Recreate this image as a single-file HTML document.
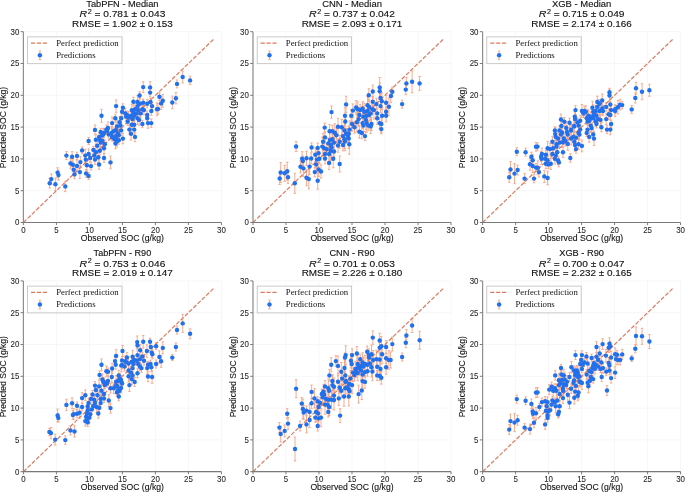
<!DOCTYPE html><html><head><meta charset="utf-8"><style>html,body{margin:0;padding:0;background:#fff;}svg{display:block;will-change:transform}</style></head><body>
<svg width="685" height="493" viewBox="0 0 685 493">
<rect width="685" height="493" fill="#fff"/>
<g stroke="#f7f7f7" stroke-width="1"><line x1="23.40" y1="222.50" x2="23.40" y2="31.70"/><line x1="23.40" y1="222.50" x2="221.40" y2="222.50"/><line x1="56.40" y1="222.50" x2="56.40" y2="31.70"/><line x1="23.40" y1="190.70" x2="221.40" y2="190.70"/><line x1="89.40" y1="222.50" x2="89.40" y2="31.70"/><line x1="23.40" y1="158.90" x2="221.40" y2="158.90"/><line x1="122.40" y1="222.50" x2="122.40" y2="31.70"/><line x1="23.40" y1="127.10" x2="221.40" y2="127.10"/><line x1="155.40" y1="222.50" x2="155.40" y2="31.70"/><line x1="23.40" y1="95.30" x2="221.40" y2="95.30"/><line x1="188.40" y1="222.50" x2="188.40" y2="31.70"/><line x1="23.40" y1="63.50" x2="221.40" y2="63.50"/><line x1="221.40" y1="222.50" x2="221.40" y2="31.70"/><line x1="23.40" y1="31.70" x2="221.40" y2="31.70"/></g>
<path d="M49.70 178.50V188.10M48.50 178.50h2.4M48.50 188.10h2.4M51.30 173.96V184.24M50.10 173.96h2.4M50.10 184.24h2.4M55.40 178.03V190.57M54.20 178.03h2.4M54.20 190.57h2.4M57.60 167.76V177.44M56.40 167.76h2.4M56.40 177.44h2.4M58.50 170.13V180.07M57.30 170.13h2.4M57.30 180.07h2.4M65.30 181.18V191.62M64.10 181.18h2.4M64.10 191.62h2.4M66.40 151.63V159.57M65.20 151.63h2.4M65.20 159.57h2.4M72.10 151.71V161.69M70.90 151.71h2.4M70.90 161.69h2.4M70.50 158.05V168.75M69.30 158.05h2.4M69.30 168.75h2.4M72.90 158.84V170.56M71.70 158.84h2.4M71.70 170.56h2.4M73.70 166.01V173.39M72.50 166.01h2.4M72.50 173.39h2.4M74.50 170.06V178.74M73.30 170.06h2.4M73.30 178.74h2.4M77.00 152.22V159.58M75.80 152.22h2.4M75.80 159.58h2.4M77.00 160.09V171.91M75.80 160.09h2.4M75.80 171.91h2.4M80.40 156.55V167.65M79.20 156.55h2.4M79.20 167.65h2.4M82.10 146.87V153.93M80.90 146.87h2.4M80.90 153.93h2.4M79.90 165.66V178.54M78.70 165.66h2.4M78.70 178.54h2.4M85.30 149.21V161.99M84.10 149.21h2.4M84.10 161.99h2.4M85.80 154.17V165.03M84.60 154.17h2.4M84.60 165.03h2.4M86.90 159.99V170.61M85.70 159.99h2.4M85.70 170.61h2.4M86.10 169.51V177.29M84.90 169.51h2.4M84.90 177.29h2.4M88.60 172.45V179.35M87.40 172.45h2.4M87.40 179.35h2.4M88.60 148.96V159.04M87.40 148.96h2.4M87.40 159.04h2.4M88.60 137.42V144.58M87.40 137.42h2.4M87.40 144.58h2.4M91.00 162.11V170.09M89.80 162.11h2.4M89.80 170.09h2.4M90.20 153.85V162.15M89.00 153.85h2.4M89.00 162.15h2.4M93.40 146.41V153.39M92.20 146.41h2.4M92.20 153.39h2.4M94.20 150.76V160.44M93.00 150.76h2.4M93.00 160.44h2.4M95.00 154.83V164.37M93.80 154.83h2.4M93.80 164.37h2.4M95.90 146.29V158.31M94.70 146.29h2.4M94.70 158.31h2.4M97.20 140.79V150.81M96.00 140.79h2.4M96.00 150.81h2.4M95.90 134.32V145.08M94.70 134.32h2.4M94.70 145.08h2.4M95.00 124.95V134.85M93.80 124.95h2.4M93.80 134.85h2.4M98.30 151.75V162.65M97.10 151.75h2.4M97.10 162.65h2.4M99.10 159.68V169.32M97.90 159.68h2.4M97.90 169.32h2.4M99.90 146.44V154.96M98.70 146.44h2.4M98.70 154.96h2.4M101.50 109.31V122.29M100.30 109.31h2.4M100.30 122.29h2.4M100.70 136.11V149.09M99.50 136.11h2.4M99.50 149.09h2.4M102.40 135.00V147.00M101.20 135.00h2.4M101.20 147.00h2.4M104.00 142.71V153.89M102.80 142.71h2.4M102.80 153.89h2.4M104.00 153.62V162.38M102.80 153.62h2.4M102.80 162.38h2.4M104.80 140.09V148.31M103.60 140.09h2.4M103.60 148.31h2.4M99.10 132.60V141.20M97.90 132.60h2.4M97.90 141.20h2.4M100.70 128.38V135.62M99.50 128.38h2.4M99.50 135.62h2.4M103.20 128.72V140.28M102.00 128.72h2.4M102.00 140.28h2.4M106.40 124.96V134.24M105.20 124.96h2.4M105.20 134.24h2.4M108.00 121.98V134.02M106.80 121.98h2.4M106.80 134.02h2.4M108.80 129.90V139.10M107.60 129.90h2.4M107.60 139.10h2.4M110.50 156.03V168.77M109.30 156.03h2.4M109.30 168.77h2.4M112.10 117.07V129.13M110.90 117.07h2.4M110.90 129.13h2.4M113.70 127.80V134.60M112.50 127.80h2.4M112.50 134.60h2.4M115.30 114.15V122.25M114.10 114.15h2.4M114.10 122.25h2.4M116.10 99.88V112.32M114.90 99.88h2.4M114.90 112.32h2.4M116.10 131.24V140.96M114.90 131.24h2.4M114.90 140.96h2.4M117.00 119.96V132.84M115.80 119.96h2.4M115.80 132.84h2.4M116.10 134.67V143.93M114.90 134.67h2.4M114.90 143.93h2.4M114.50 135.67V142.93M113.30 135.67h2.4M113.30 142.93h2.4M143.20 81.75V92.45M142.00 81.75h2.4M142.00 92.45h2.4M150.10 81.59V93.21M148.90 81.59h2.4M148.90 93.21h2.4M150.10 88.36V96.84M148.90 88.36h2.4M148.90 96.84h2.4M139.60 91.83V99.17M138.40 91.83h2.4M138.40 99.17h2.4M133.40 97.27V106.13M132.20 97.27h2.4M132.20 106.13h2.4M137.50 95.61V108.39M136.30 95.61h2.4M136.30 108.39h2.4M139.90 97.95V109.45M138.70 97.95h2.4M138.70 109.45h2.4M143.20 99.03V106.57M142.00 99.03h2.4M142.00 106.57h2.4M147.20 99.54V107.86M146.00 99.54h2.4M146.00 107.86h2.4M150.50 98.29V105.71M149.30 98.29h2.4M149.30 105.71h2.4M152.10 102.51V109.69M150.90 102.51h2.4M150.90 109.69h2.4M137.50 100.23V111.97M136.30 100.23h2.4M136.30 111.97h2.4M122.90 103.75V111.65M121.70 103.75h2.4M121.70 111.65h2.4M122.10 106.67V116.93M120.90 106.67h2.4M120.90 116.93h2.4M125.30 108.61V118.19M124.10 108.61h2.4M124.10 118.19h2.4M126.90 111.01V118.99M125.70 111.01h2.4M125.70 118.99h2.4M131.80 104.43V115.77M130.60 104.43h2.4M130.60 115.77h2.4M133.40 108.79V116.41M132.20 108.79h2.4M132.20 116.41h2.4M136.70 108.00V118.80M135.50 108.00h2.4M135.50 118.80h2.4M142.40 105.54V113.06M141.20 105.54h2.4M141.20 113.06h2.4M144.00 105.40V114.80M142.80 105.40h2.4M142.80 114.80h2.4M140.70 109.34V117.46M139.50 109.34h2.4M139.50 117.46h2.4M151.30 106.76V115.24M150.10 106.76h2.4M150.10 115.24h2.4M157.00 102.89V115.71M155.80 102.89h2.4M155.80 115.71h2.4M121.20 112.41V124.19M120.00 112.41h2.4M120.00 124.19h2.4M126.10 112.26V120.94M124.90 112.26h2.4M124.90 120.94h2.4M128.60 111.36V123.64M127.40 111.36h2.4M127.40 123.64h2.4M131.00 111.75V119.85M129.80 111.75h2.4M129.80 119.85h2.4M134.20 111.18V120.42M133.00 111.18h2.4M133.00 120.42h2.4M137.50 112.25V124.35M136.30 112.25h2.4M136.30 124.35h2.4M139.10 114.51V125.29M137.90 114.51h2.4M137.90 125.29h2.4M127.70 117.79V125.21M126.50 117.79h2.4M126.50 125.21h2.4M132.60 112.63V125.57M131.40 112.63h2.4M131.40 125.57h2.4M147.20 110.94V119.06M146.00 110.94h2.4M146.00 119.06h2.4M147.20 114.10V122.50M146.00 114.10h2.4M146.00 122.50h2.4M119.60 116.50V128.10M118.40 116.50h2.4M118.40 128.10h2.4M120.40 121.18V130.02M119.20 121.18h2.4M119.20 130.02h2.4M131.80 120.48V129.12M130.60 120.48h2.4M130.60 129.12h2.4M134.20 121.17V128.43M133.00 121.17h2.4M133.00 128.43h2.4M142.40 120.32V127.68M141.20 120.32h2.4M141.20 127.68h2.4M148.00 117.89V128.31M146.80 117.89h2.4M146.80 128.31h2.4M151.30 118.95V127.25M150.10 118.95h2.4M150.10 127.25h2.4M121.20 125.14V135.66M120.00 125.14h2.4M120.00 135.66h2.4M129.40 125.05V134.15M128.20 125.05h2.4M128.20 134.15h2.4M134.20 124.80V134.40M133.00 124.80h2.4M133.00 134.40h2.4M131.00 127.33V140.07M129.80 127.33h2.4M129.80 140.07h2.4M135.00 132.00V141.80M133.80 132.00h2.4M133.80 141.80h2.4M122.90 133.42V143.78M121.70 133.42h2.4M121.70 143.78h2.4M118.80 129.21V141.39M117.60 129.21h2.4M117.60 141.39h2.4M118.80 136.23V144.17M117.60 136.23h2.4M117.60 144.17h2.4M138.30 106.22V113.98M137.10 106.22h2.4M137.10 113.98h2.4M135.00 103.08V115.52M133.80 103.08h2.4M133.80 115.52h2.4M182.70 71.06V82.94M181.50 71.06h2.4M181.50 82.94h2.4M190.10 76.23V84.57M188.90 76.23h2.4M188.90 84.57h2.4M177.00 79.91V87.89M175.80 79.91h2.4M175.80 87.89h2.4M175.90 92.51V103.89M174.70 92.51h2.4M174.70 103.89h2.4M172.30 96.18V108.82M171.10 96.18h2.4M171.10 108.82h2.4M159.40 92.79V100.81M158.20 92.79h2.4M158.20 100.81h2.4M162.80 94.45V107.15M161.60 94.45h2.4M161.60 107.15h2.4M161.10 97.27V109.53M159.90 97.27h2.4M159.90 109.53h2.4M158.00 103.63V114.17M156.80 103.63h2.4M156.80 114.17h2.4M104.00 128.29V137.71M102.80 128.29h2.4M102.80 137.71h2.4M107.00 127.28V134.72M105.80 127.28h2.4M105.80 134.72h2.4M102.00 131.98V139.02M100.80 131.98h2.4M100.80 139.02h2.4M111.50 126.62V139.38M110.30 126.62h2.4M110.30 139.38h2.4M112.00 132.86V141.14M110.80 132.86h2.4M110.80 141.14h2.4M116.00 124.42V135.58M114.80 124.42h2.4M114.80 135.58h2.4M118.00 129.30V137.70M116.80 129.30h2.4M116.80 137.70h2.4M117.00 135.05V146.95M115.80 135.05h2.4M115.80 146.95h2.4M115.50 138.25V148.75M114.30 138.25h2.4M114.30 148.75h2.4M100.00 135.69V144.31M98.80 135.69h2.4M98.80 144.31h2.4" stroke="#f3a588" stroke-width="0.9" fill="none"/>
<line x1="23.40" y1="222.50" x2="214.14" y2="38.70" stroke="#de7a5c" stroke-width="1.2" stroke-dasharray="4.2 1.7"/>
<g fill="#2270ec"><circle cx="49.70" cy="183.30" r="2.2"/><circle cx="51.30" cy="179.10" r="2.2"/><circle cx="55.40" cy="184.30" r="2.2"/><circle cx="57.60" cy="172.60" r="2.2"/><circle cx="58.50" cy="175.10" r="2.2"/><circle cx="65.30" cy="186.40" r="2.2"/><circle cx="66.40" cy="155.60" r="2.2"/><circle cx="72.10" cy="156.70" r="2.2"/><circle cx="70.50" cy="163.40" r="2.2"/><circle cx="72.90" cy="164.70" r="2.2"/><circle cx="73.70" cy="169.70" r="2.2"/><circle cx="74.50" cy="174.40" r="2.2"/><circle cx="77.00" cy="155.90" r="2.2"/><circle cx="77.00" cy="166.00" r="2.2"/><circle cx="80.40" cy="162.10" r="2.2"/><circle cx="82.10" cy="150.40" r="2.2"/><circle cx="79.90" cy="172.10" r="2.2"/><circle cx="85.30" cy="155.60" r="2.2"/><circle cx="85.80" cy="159.60" r="2.2"/><circle cx="86.90" cy="165.30" r="2.2"/><circle cx="86.10" cy="173.40" r="2.2"/><circle cx="88.60" cy="175.90" r="2.2"/><circle cx="88.60" cy="154.00" r="2.2"/><circle cx="88.60" cy="141.00" r="2.2"/><circle cx="91.00" cy="166.10" r="2.2"/><circle cx="90.20" cy="158.00" r="2.2"/><circle cx="93.40" cy="149.90" r="2.2"/><circle cx="94.20" cy="155.60" r="2.2"/><circle cx="95.00" cy="159.60" r="2.2"/><circle cx="95.90" cy="152.30" r="2.2"/><circle cx="97.20" cy="145.80" r="2.2"/><circle cx="95.90" cy="139.70" r="2.2"/><circle cx="95.00" cy="129.90" r="2.2"/><circle cx="98.30" cy="157.20" r="2.2"/><circle cx="99.10" cy="164.50" r="2.2"/><circle cx="99.90" cy="150.70" r="2.2"/><circle cx="101.50" cy="115.80" r="2.2"/><circle cx="100.70" cy="142.60" r="2.2"/><circle cx="102.40" cy="141.00" r="2.2"/><circle cx="104.00" cy="148.30" r="2.2"/><circle cx="104.00" cy="158.00" r="2.2"/><circle cx="104.80" cy="144.20" r="2.2"/><circle cx="99.10" cy="136.90" r="2.2"/><circle cx="100.70" cy="132.00" r="2.2"/><circle cx="103.20" cy="134.50" r="2.2"/><circle cx="106.40" cy="129.60" r="2.2"/><circle cx="108.00" cy="128.00" r="2.2"/><circle cx="108.80" cy="134.50" r="2.2"/><circle cx="110.50" cy="162.40" r="2.2"/><circle cx="112.10" cy="123.10" r="2.2"/><circle cx="113.70" cy="131.20" r="2.2"/><circle cx="115.30" cy="118.20" r="2.2"/><circle cx="116.10" cy="106.10" r="2.2"/><circle cx="116.10" cy="136.10" r="2.2"/><circle cx="117.00" cy="126.40" r="2.2"/><circle cx="116.10" cy="139.30" r="2.2"/><circle cx="114.50" cy="139.30" r="2.2"/><circle cx="143.20" cy="87.10" r="2.2"/><circle cx="150.10" cy="87.40" r="2.2"/><circle cx="150.10" cy="92.60" r="2.2"/><circle cx="139.60" cy="95.50" r="2.2"/><circle cx="133.40" cy="101.70" r="2.2"/><circle cx="137.50" cy="102.00" r="2.2"/><circle cx="139.90" cy="103.70" r="2.2"/><circle cx="143.20" cy="102.80" r="2.2"/><circle cx="147.20" cy="103.70" r="2.2"/><circle cx="150.50" cy="102.00" r="2.2"/><circle cx="152.10" cy="106.10" r="2.2"/><circle cx="137.50" cy="106.10" r="2.2"/><circle cx="122.90" cy="107.70" r="2.2"/><circle cx="122.10" cy="111.80" r="2.2"/><circle cx="125.30" cy="113.40" r="2.2"/><circle cx="126.90" cy="115.00" r="2.2"/><circle cx="131.80" cy="110.10" r="2.2"/><circle cx="133.40" cy="112.60" r="2.2"/><circle cx="136.70" cy="113.40" r="2.2"/><circle cx="142.40" cy="109.30" r="2.2"/><circle cx="144.00" cy="110.10" r="2.2"/><circle cx="140.70" cy="113.40" r="2.2"/><circle cx="151.30" cy="111.00" r="2.2"/><circle cx="157.00" cy="109.30" r="2.2"/><circle cx="121.20" cy="118.30" r="2.2"/><circle cx="126.10" cy="116.60" r="2.2"/><circle cx="128.60" cy="117.50" r="2.2"/><circle cx="131.00" cy="115.80" r="2.2"/><circle cx="134.20" cy="115.80" r="2.2"/><circle cx="137.50" cy="118.30" r="2.2"/><circle cx="139.10" cy="119.90" r="2.2"/><circle cx="127.70" cy="121.50" r="2.2"/><circle cx="132.60" cy="119.10" r="2.2"/><circle cx="147.20" cy="115.00" r="2.2"/><circle cx="147.20" cy="118.30" r="2.2"/><circle cx="119.60" cy="122.30" r="2.2"/><circle cx="120.40" cy="125.60" r="2.2"/><circle cx="131.80" cy="124.80" r="2.2"/><circle cx="134.20" cy="124.80" r="2.2"/><circle cx="142.40" cy="124.00" r="2.2"/><circle cx="148.00" cy="123.10" r="2.2"/><circle cx="151.30" cy="123.10" r="2.2"/><circle cx="121.20" cy="130.40" r="2.2"/><circle cx="129.40" cy="129.60" r="2.2"/><circle cx="134.20" cy="129.60" r="2.2"/><circle cx="131.00" cy="133.70" r="2.2"/><circle cx="135.00" cy="136.90" r="2.2"/><circle cx="122.90" cy="138.60" r="2.2"/><circle cx="118.80" cy="135.30" r="2.2"/><circle cx="118.80" cy="140.20" r="2.2"/><circle cx="138.30" cy="110.10" r="2.2"/><circle cx="135.00" cy="109.30" r="2.2"/><circle cx="182.70" cy="77.00" r="2.2"/><circle cx="190.10" cy="80.40" r="2.2"/><circle cx="177.00" cy="83.90" r="2.2"/><circle cx="175.90" cy="98.20" r="2.2"/><circle cx="172.30" cy="102.50" r="2.2"/><circle cx="159.40" cy="96.80" r="2.2"/><circle cx="162.80" cy="100.80" r="2.2"/><circle cx="161.10" cy="103.40" r="2.2"/><circle cx="158.00" cy="108.90" r="2.2"/><circle cx="104.00" cy="133.00" r="2.2"/><circle cx="107.00" cy="131.00" r="2.2"/><circle cx="102.00" cy="135.50" r="2.2"/><circle cx="111.50" cy="133.00" r="2.2"/><circle cx="112.00" cy="137.00" r="2.2"/><circle cx="116.00" cy="130.00" r="2.2"/><circle cx="118.00" cy="133.50" r="2.2"/><circle cx="117.00" cy="141.00" r="2.2"/><circle cx="115.50" cy="143.50" r="2.2"/><circle cx="100.00" cy="140.00" r="2.2"/></g>
<path d="M23.40 31.70V222.50" stroke="#8e8e8e" stroke-width="1.2" fill="none"/>
<path d="M22.80 222.50H221.40" stroke="#7a7a7a" stroke-width="1.2" fill="none"/>
<path d="M23.40 222.50v2.6M23.40 222.50h-2.8M56.40 222.50v2.6M23.40 190.70h-2.8M89.40 222.50v2.6M23.40 158.90h-2.8M122.40 222.50v2.6M23.40 127.10h-2.8M155.40 222.50v2.6M23.40 95.30h-2.8M188.40 222.50v2.6M23.40 63.50h-2.8M221.40 222.50v2.6M23.40 31.70h-2.8" stroke="#7a7a7a" stroke-width="1.0" fill="none"/>
<g font-family="Liberation Sans, sans-serif" font-size="8.3" fill="#262626" stroke="#262626" stroke-width="0.08"><text x="23.40" y="232.60" text-anchor="middle" textLength="4.39" lengthAdjust="spacingAndGlyphs">0</text><text x="19.30" y="225.40" text-anchor="end" textLength="4.39" lengthAdjust="spacingAndGlyphs">0</text><text x="56.40" y="232.60" text-anchor="middle" textLength="4.39" lengthAdjust="spacingAndGlyphs">5</text><text x="19.30" y="193.60" text-anchor="end" textLength="4.39" lengthAdjust="spacingAndGlyphs">5</text><text x="89.40" y="232.60" text-anchor="middle" textLength="8.79" lengthAdjust="spacingAndGlyphs">10</text><text x="19.30" y="161.80" text-anchor="end" textLength="8.79" lengthAdjust="spacingAndGlyphs">10</text><text x="122.40" y="232.60" text-anchor="middle" textLength="8.79" lengthAdjust="spacingAndGlyphs">15</text><text x="19.30" y="130.00" text-anchor="end" textLength="8.79" lengthAdjust="spacingAndGlyphs">15</text><text x="155.40" y="232.60" text-anchor="middle" textLength="8.79" lengthAdjust="spacingAndGlyphs">20</text><text x="19.30" y="98.20" text-anchor="end" textLength="8.79" lengthAdjust="spacingAndGlyphs">20</text><text x="188.40" y="232.60" text-anchor="middle" textLength="8.79" lengthAdjust="spacingAndGlyphs">25</text><text x="19.30" y="66.40" text-anchor="end" textLength="8.79" lengthAdjust="spacingAndGlyphs">25</text><text x="221.40" y="232.60" text-anchor="middle" textLength="8.79" lengthAdjust="spacingAndGlyphs">30</text><text x="19.30" y="34.60" text-anchor="end" textLength="8.79" lengthAdjust="spacingAndGlyphs">30</text></g>
<text x="122.40" y="241.20" text-anchor="middle" font-family="Liberation Sans, sans-serif" font-size="8.2" fill="#111" stroke="#111" stroke-width="0.1" textLength="83.21" lengthAdjust="spacingAndGlyphs">Observed SOC (g/kg)</text>
<text transform="translate(6.00,127.50) rotate(-90)" x="0" y="0" text-anchor="middle" font-family="Liberation Sans, sans-serif" font-size="8.2" fill="#111" stroke="#111" stroke-width="0.1" textLength="81.29" lengthAdjust="spacingAndGlyphs">Predicted SOC (g/kg)</text>
<g font-family="Liberation Sans, sans-serif" font-size="9.0" fill="#111" stroke="#111" stroke-width="0.12" text-anchor="middle">
<text x="122.40" y="7.00" textLength="72.21" lengthAdjust="spacingAndGlyphs">TabPFN - Median</text>
<text x="122.40" y="17.30" textLength="85.86" lengthAdjust="spacingAndGlyphs"><tspan font-style="italic" font-size="9.4">R</tspan><tspan font-size="6.30" dx="0.5" dy="-3.4">2</tspan><tspan dy="3.4"> = 0.781 ± 0.043</tspan></text>
<text x="122.40" y="27.20" textLength="100.60" lengthAdjust="spacingAndGlyphs">RMSE = 1.902 ± 0.153</text>
</g>
<rect x="27.60" y="36.90" width="94.4" height="26.8" fill="#fff" fill-opacity="0.8" stroke="#bdbdbd" stroke-width="0.8"/>
<line x1="31.00" y1="43.10" x2="47.80" y2="43.10" stroke="#de7a5c" stroke-width="1.3" stroke-dasharray="4.2 1.7"/>
<path d="M39.90 51.00V59.60M38.70 51.00h2.4M38.70 59.60h2.4" stroke="#f3a588" stroke-width="0.9"/>
<circle cx="39.90" cy="55.30" r="2.2" fill="#2270ec"/>
<g font-family="Liberation Serif, serif" font-size="8.75" fill="#111">
<text x="56.20" y="46.00">Perfect prediction</text>
<text x="56.20" y="58.20">Predictions</text>
</g>
<g stroke="#f7f7f7" stroke-width="1"><line x1="253.00" y1="222.50" x2="253.00" y2="31.70"/><line x1="253.00" y1="222.50" x2="451.00" y2="222.50"/><line x1="286.00" y1="222.50" x2="286.00" y2="31.70"/><line x1="253.00" y1="190.70" x2="451.00" y2="190.70"/><line x1="319.00" y1="222.50" x2="319.00" y2="31.70"/><line x1="253.00" y1="158.90" x2="451.00" y2="158.90"/><line x1="352.00" y1="222.50" x2="352.00" y2="31.70"/><line x1="253.00" y1="127.10" x2="451.00" y2="127.10"/><line x1="385.00" y1="222.50" x2="385.00" y2="31.70"/><line x1="253.00" y1="95.30" x2="451.00" y2="95.30"/><line x1="418.00" y1="222.50" x2="418.00" y2="31.70"/><line x1="253.00" y1="63.50" x2="451.00" y2="63.50"/><line x1="451.00" y1="222.50" x2="451.00" y2="31.70"/><line x1="253.00" y1="31.70" x2="451.00" y2="31.70"/></g>
<path d="M279.70 172.50V184.50M278.50 172.50h2.4M278.50 184.50h2.4M280.70 162.50V182.50M279.50 162.50h2.4M279.50 182.50h2.4M284.70 165.30V181.30M283.50 165.30h2.4M283.50 181.30h2.4M287.20 162.20V180.20M286.00 162.20h2.4M286.00 180.20h2.4M288.00 171.30V183.30M286.80 171.30h2.4M286.80 183.30h2.4M294.80 173.30V193.30M293.60 173.30h2.4M293.60 193.30h2.4M296.10 141.50V151.50M294.90 141.50h2.4M294.90 151.50h2.4M302.10 151.70V165.70M300.90 151.70h2.4M300.90 165.70h2.4M302.90 156.10V166.10M301.70 156.10h2.4M301.70 166.10h2.4M300.50 160.80V172.80M299.30 160.80h2.4M299.30 172.80h2.4M303.40 160.40V176.40M302.20 160.40h2.4M302.20 176.40h2.4M306.50 151.19V165.41M305.30 151.19h2.4M305.30 165.41h2.4M306.50 169.80V185.80M305.30 169.80h2.4M305.30 185.80h2.4M331.50 106.10V118.10M330.30 106.10h2.4M330.30 118.10h2.4M346.10 96.28V112.52M344.90 96.28h2.4M344.90 112.52h2.4M345.00 107.63V123.97M343.80 107.63h2.4M343.80 123.97h2.4M345.30 116.22V126.78M344.10 116.22h2.4M344.10 126.78h2.4M324.70 123.04V132.16M323.50 123.04h2.4M323.50 132.16h2.4M329.60 124.64V137.76M328.40 124.64h2.4M328.40 137.76h2.4M332.40 125.19V137.21M331.20 125.19h2.4M331.20 137.21h2.4M334.80 123.84V141.76M333.60 123.84h2.4M333.60 141.76h2.4M338.00 118.40V135.00M336.80 118.40h2.4M336.80 135.00h2.4M341.80 119.39V135.01M340.60 119.39h2.4M340.60 135.01h2.4M336.40 127.73V142.87M335.20 127.73h2.4M335.20 142.87h2.4M344.50 122.26V138.54M343.30 122.26h2.4M343.30 138.54h2.4M346.10 128.40V139.00M344.90 128.40h2.4M344.90 139.00h2.4M342.90 129.18V143.02M341.70 129.18h2.4M341.70 143.02h2.4M325.00 132.01V142.79M323.80 132.01h2.4M323.80 142.79h2.4M329.90 130.62V149.58M328.70 130.62h2.4M328.70 149.58h2.4M332.40 134.48V144.12M331.20 134.48h2.4M331.20 144.12h2.4M334.00 133.60V151.60M332.80 133.60h2.4M332.80 151.60h2.4M328.30 138.49V148.31M327.10 138.49h2.4M327.10 148.31h2.4M323.10 133.52V150.08M321.90 133.52h2.4M321.90 150.08h2.4M339.70 135.45V148.15M338.50 135.45h2.4M338.50 148.15h2.4M338.00 138.77V152.23M336.80 138.77h2.4M336.80 152.23h2.4M344.50 130.17V148.43M343.30 130.17h2.4M343.30 148.43h2.4M311.60 142.90V152.10M310.40 142.90h2.4M310.40 152.10h2.4M317.70 143.07V152.73M316.50 143.07h2.4M316.50 152.73h2.4M322.30 137.07V156.13M321.10 137.07h2.4M321.10 156.13h2.4M324.20 141.00V155.60M323.00 141.00h2.4M323.00 155.60h2.4M326.70 144.10V154.10M325.50 144.10h2.4M325.50 154.10h2.4M331.50 137.57V157.43M330.30 137.57h2.4M330.30 157.43h2.4M330.70 140.99V160.41M329.50 140.99h2.4M329.50 160.41h2.4M334.00 146.38V156.62M332.80 146.38h2.4M332.80 156.62h2.4M315.30 147.97V161.63M314.10 147.97h2.4M314.10 161.63h2.4M318.60 147.86V158.34M317.40 147.86h2.4M317.40 158.34h2.4M325.00 147.78V160.22M323.80 147.78h2.4M323.80 160.22h2.4M329.10 146.08V161.92M327.90 146.08h2.4M327.90 161.92h2.4M311.20 153.10V163.90M310.00 153.10h2.4M310.00 163.90h2.4M316.90 151.27V167.93M315.70 151.27h2.4M315.70 167.93h2.4M319.40 154.02V163.58M318.20 154.02h2.4M318.20 163.58h2.4M325.00 153.06V163.94M323.80 153.06h2.4M323.80 163.94h2.4M333.20 149.81V167.79M332.00 149.81h2.4M332.00 167.79h2.4M329.10 156.20V169.60M327.90 156.20h2.4M327.90 169.60h2.4M339.70 156.00V172.00M338.50 156.00h2.4M338.50 172.00h2.4M316.10 157.70V171.30M314.90 157.70h2.4M314.90 171.30h2.4M309.60 158.82V174.38M308.40 158.82h2.4M308.40 174.38h2.4M318.60 162.28V176.52M317.40 162.28h2.4M317.40 176.52h2.4M321.00 164.88V178.12M319.80 164.88h2.4M319.80 178.12h2.4M314.80 167.43V176.77M313.60 167.43h2.4M313.60 176.77h2.4M317.70 172.21V189.19M316.50 172.21h2.4M316.50 189.19h2.4M308.80 169.28V188.92M307.60 169.28h2.4M307.60 188.92h2.4M379.70 77.53V97.27M378.50 77.53h2.4M378.50 97.27h2.4M379.70 83.05V99.35M378.50 83.05h2.4M378.50 99.35h2.4M372.80 85.04V97.96M371.60 85.04h2.4M371.60 97.96h2.4M368.80 88.70V101.70M367.60 88.70h2.4M367.60 101.70h2.4M380.50 89.70V106.30M379.30 89.70h2.4M379.30 106.30h2.4M381.80 92.99V109.41M380.60 92.99h2.4M380.60 109.41h2.4M372.70 96.57V106.83M371.50 96.57h2.4M371.50 106.83h2.4M376.40 98.31V109.89M375.20 98.31h2.4M375.20 109.89h2.4M380.50 99.60V112.60M379.30 99.60h2.4M379.30 112.60h2.4M386.10 95.49V110.11M384.90 95.49h2.4M384.90 110.11h2.4M367.50 96.34V114.26M366.30 96.34h2.4M366.30 114.26h2.4M369.10 99.65V114.15M367.90 99.65h2.4M367.90 114.15h2.4M372.40 104.65V113.95M371.20 104.65h2.4M371.20 113.95h2.4M374.00 101.08V119.12M372.80 101.08h2.4M372.80 119.12h2.4M356.10 100.53V114.27M354.90 100.53h2.4M354.90 114.27h2.4M357.70 101.95V116.65M356.50 101.95h2.4M356.50 116.65h2.4M360.20 104.38V115.82M359.00 104.38h2.4M359.00 115.82h2.4M362.60 101.65V115.35M361.40 101.65h2.4M361.40 115.35h2.4M352.90 103.96V117.24M351.70 103.96h2.4M351.70 117.24h2.4M364.20 103.05V120.55M363.00 103.05h2.4M363.00 120.55h2.4M367.50 105.94V116.06M366.30 105.94h2.4M366.30 116.06h2.4M370.70 105.88V120.92M369.50 105.88h2.4M369.50 120.92h2.4M377.20 107.92V118.88M376.00 107.92h2.4M376.00 118.88h2.4M382.10 107.47V124.13M380.90 107.47h2.4M380.90 124.13h2.4M386.10 107.10V116.50M384.90 107.10h2.4M384.90 116.50h2.4M386.10 109.78V121.82M384.90 109.78h2.4M384.90 121.82h2.4M351.20 109.41V122.19M350.00 109.41h2.4M350.00 122.19h2.4M359.40 107.00V123.00M358.20 107.00h2.4M358.20 123.00h2.4M363.40 111.81V121.39M362.20 111.81h2.4M362.20 121.39h2.4M366.70 108.77V122.83M365.50 108.77h2.4M365.50 122.83h2.4M369.10 109.35V120.65M367.90 109.35h2.4M367.90 120.65h2.4M377.20 112.25V124.35M376.00 112.25h2.4M376.00 124.35h2.4M358.60 111.98V126.22M357.40 111.98h2.4M357.40 126.22h2.4M365.90 110.13V129.67M364.70 110.13h2.4M364.70 129.67h2.4M352.10 116.85V131.15M350.90 116.85h2.4M350.90 131.15h2.4M356.90 112.54V132.06M355.70 112.54h2.4M355.70 132.06h2.4M362.60 117.68V128.52M361.40 117.68h2.4M361.40 128.52h2.4M366.70 113.52V132.68M365.50 113.52h2.4M365.50 132.68h2.4M371.50 117.50V130.50M370.30 117.50h2.4M370.30 130.50h2.4M379.70 117.56V128.64M378.50 117.56h2.4M378.50 128.64h2.4M381.30 115.38V132.62M380.10 115.38h2.4M380.10 132.62h2.4M363.40 116.08V135.12M362.20 116.08h2.4M362.20 135.12h2.4M368.30 121.06V130.14M367.10 121.06h2.4M367.10 130.14h2.4M354.50 121.22V133.18M353.30 121.22h2.4M353.30 133.18h2.4M349.60 120.86V138.34M348.40 120.86h2.4M348.40 138.34h2.4M359.40 125.32V138.08M358.20 125.32h2.4M358.20 138.08h2.4M361.80 127.07V138.73M360.60 127.07h2.4M360.60 138.73h2.4M365.00 131.55V140.65M363.80 131.55h2.4M363.80 140.65h2.4M381.30 124.38V133.82M380.10 124.38h2.4M380.10 133.82h2.4M348.80 125.80V141.60M347.60 125.80h2.4M347.60 141.60h2.4M348.80 128.69V148.51M347.60 128.69h2.4M347.60 148.51h2.4M349.30 134.21V154.19M348.10 134.21h2.4M348.10 154.19h2.4M370.70 119.13V133.67M369.50 119.13h2.4M369.50 133.67h2.4M412.10 70.80V92.80M410.90 70.80h2.4M410.90 92.80h2.4M419.60 76.40V90.40M418.40 76.40h2.4M418.40 90.40h2.4M406.40 77.40V89.40M405.20 77.40h2.4M405.20 89.40h2.4M405.80 84.60V94.60M404.60 84.60h2.4M404.60 94.60h2.4M392.30 87.07V96.33M391.10 87.07h2.4M391.10 96.33h2.4M390.90 89.73V102.27M389.70 89.73h2.4M389.70 102.27h2.4M402.10 100.10V108.10M400.90 100.10h2.4M400.90 108.10h2.4M388.90 97.97V115.63M387.70 97.97h2.4M387.70 115.63h2.4M345.00 132.42V150.58M343.80 132.42h2.4M343.80 150.58h2.4M348.00 128.98V145.02M346.80 128.98h2.4M346.80 145.02h2.4M343.00 139.24V150.76M341.80 139.24h2.4M341.80 150.76h2.4M331.00 137.60V152.40M329.80 137.60h2.4M329.80 152.40h2.4" stroke="#f3a588" stroke-width="0.9" fill="none"/>
<line x1="253.00" y1="222.50" x2="443.74" y2="38.70" stroke="#de7a5c" stroke-width="1.2" stroke-dasharray="4.2 1.7"/>
<g fill="#2270ec"><circle cx="279.70" cy="178.50" r="2.2"/><circle cx="280.70" cy="172.50" r="2.2"/><circle cx="284.70" cy="173.30" r="2.2"/><circle cx="287.20" cy="171.20" r="2.2"/><circle cx="288.00" cy="177.30" r="2.2"/><circle cx="294.80" cy="183.30" r="2.2"/><circle cx="296.10" cy="146.50" r="2.2"/><circle cx="302.10" cy="158.70" r="2.2"/><circle cx="302.90" cy="161.10" r="2.2"/><circle cx="300.50" cy="166.80" r="2.2"/><circle cx="303.40" cy="168.40" r="2.2"/><circle cx="306.50" cy="158.30" r="2.2"/><circle cx="306.50" cy="177.80" r="2.2"/><circle cx="331.50" cy="112.10" r="2.2"/><circle cx="346.10" cy="104.40" r="2.2"/><circle cx="345.00" cy="115.80" r="2.2"/><circle cx="345.30" cy="121.50" r="2.2"/><circle cx="324.70" cy="127.60" r="2.2"/><circle cx="329.60" cy="131.20" r="2.2"/><circle cx="332.40" cy="131.20" r="2.2"/><circle cx="334.80" cy="132.80" r="2.2"/><circle cx="338.00" cy="126.70" r="2.2"/><circle cx="341.80" cy="127.20" r="2.2"/><circle cx="336.40" cy="135.30" r="2.2"/><circle cx="344.50" cy="130.40" r="2.2"/><circle cx="346.10" cy="133.70" r="2.2"/><circle cx="342.90" cy="136.10" r="2.2"/><circle cx="325.00" cy="137.40" r="2.2"/><circle cx="329.90" cy="140.10" r="2.2"/><circle cx="332.40" cy="139.30" r="2.2"/><circle cx="334.00" cy="142.60" r="2.2"/><circle cx="328.30" cy="143.40" r="2.2"/><circle cx="323.10" cy="141.80" r="2.2"/><circle cx="339.70" cy="141.80" r="2.2"/><circle cx="338.00" cy="145.50" r="2.2"/><circle cx="344.50" cy="139.30" r="2.2"/><circle cx="311.60" cy="147.50" r="2.2"/><circle cx="317.70" cy="147.90" r="2.2"/><circle cx="322.30" cy="146.60" r="2.2"/><circle cx="324.20" cy="148.30" r="2.2"/><circle cx="326.70" cy="149.10" r="2.2"/><circle cx="331.50" cy="147.50" r="2.2"/><circle cx="330.70" cy="150.70" r="2.2"/><circle cx="334.00" cy="151.50" r="2.2"/><circle cx="315.30" cy="154.80" r="2.2"/><circle cx="318.60" cy="153.10" r="2.2"/><circle cx="325.00" cy="154.00" r="2.2"/><circle cx="329.10" cy="154.00" r="2.2"/><circle cx="311.20" cy="158.50" r="2.2"/><circle cx="316.90" cy="159.60" r="2.2"/><circle cx="319.40" cy="158.80" r="2.2"/><circle cx="325.00" cy="158.50" r="2.2"/><circle cx="333.20" cy="158.80" r="2.2"/><circle cx="329.10" cy="162.90" r="2.2"/><circle cx="339.70" cy="164.00" r="2.2"/><circle cx="316.10" cy="164.50" r="2.2"/><circle cx="309.60" cy="166.60" r="2.2"/><circle cx="318.60" cy="169.40" r="2.2"/><circle cx="321.00" cy="171.50" r="2.2"/><circle cx="314.80" cy="172.10" r="2.2"/><circle cx="317.70" cy="180.70" r="2.2"/><circle cx="308.80" cy="179.10" r="2.2"/><circle cx="379.70" cy="87.40" r="2.2"/><circle cx="379.70" cy="91.20" r="2.2"/><circle cx="372.80" cy="91.50" r="2.2"/><circle cx="368.80" cy="95.20" r="2.2"/><circle cx="380.50" cy="98.00" r="2.2"/><circle cx="381.80" cy="101.20" r="2.2"/><circle cx="372.70" cy="101.70" r="2.2"/><circle cx="376.40" cy="104.10" r="2.2"/><circle cx="380.50" cy="106.10" r="2.2"/><circle cx="386.10" cy="102.80" r="2.2"/><circle cx="367.50" cy="105.30" r="2.2"/><circle cx="369.10" cy="106.90" r="2.2"/><circle cx="372.40" cy="109.30" r="2.2"/><circle cx="374.00" cy="110.10" r="2.2"/><circle cx="356.10" cy="107.40" r="2.2"/><circle cx="357.70" cy="109.30" r="2.2"/><circle cx="360.20" cy="110.10" r="2.2"/><circle cx="362.60" cy="108.50" r="2.2"/><circle cx="352.90" cy="110.60" r="2.2"/><circle cx="364.20" cy="111.80" r="2.2"/><circle cx="367.50" cy="111.00" r="2.2"/><circle cx="370.70" cy="113.40" r="2.2"/><circle cx="377.20" cy="113.40" r="2.2"/><circle cx="382.10" cy="115.80" r="2.2"/><circle cx="386.10" cy="111.80" r="2.2"/><circle cx="386.10" cy="115.80" r="2.2"/><circle cx="351.20" cy="115.80" r="2.2"/><circle cx="359.40" cy="115.00" r="2.2"/><circle cx="363.40" cy="116.60" r="2.2"/><circle cx="366.70" cy="115.80" r="2.2"/><circle cx="369.10" cy="115.00" r="2.2"/><circle cx="377.20" cy="118.30" r="2.2"/><circle cx="358.60" cy="119.10" r="2.2"/><circle cx="365.90" cy="119.90" r="2.2"/><circle cx="352.10" cy="124.00" r="2.2"/><circle cx="356.90" cy="122.30" r="2.2"/><circle cx="362.60" cy="123.10" r="2.2"/><circle cx="366.70" cy="123.10" r="2.2"/><circle cx="371.50" cy="124.00" r="2.2"/><circle cx="379.70" cy="123.10" r="2.2"/><circle cx="381.30" cy="124.00" r="2.2"/><circle cx="363.40" cy="125.60" r="2.2"/><circle cx="368.30" cy="125.60" r="2.2"/><circle cx="354.50" cy="127.20" r="2.2"/><circle cx="349.60" cy="129.60" r="2.2"/><circle cx="359.40" cy="131.70" r="2.2"/><circle cx="361.80" cy="132.90" r="2.2"/><circle cx="365.00" cy="136.10" r="2.2"/><circle cx="381.30" cy="129.10" r="2.2"/><circle cx="348.80" cy="133.70" r="2.2"/><circle cx="348.80" cy="138.60" r="2.2"/><circle cx="349.30" cy="144.20" r="2.2"/><circle cx="370.70" cy="126.40" r="2.2"/><circle cx="412.10" cy="81.80" r="2.2"/><circle cx="419.60" cy="83.40" r="2.2"/><circle cx="406.40" cy="83.40" r="2.2"/><circle cx="405.80" cy="89.60" r="2.2"/><circle cx="392.30" cy="91.70" r="2.2"/><circle cx="390.90" cy="96.00" r="2.2"/><circle cx="402.10" cy="104.10" r="2.2"/><circle cx="388.90" cy="106.80" r="2.2"/><circle cx="345.00" cy="141.50" r="2.2"/><circle cx="348.00" cy="137.00" r="2.2"/><circle cx="343.00" cy="145.00" r="2.2"/><circle cx="331.00" cy="145.00" r="2.2"/></g>
<path d="M253.00 31.70V222.50" stroke="#8e8e8e" stroke-width="1.2" fill="none"/>
<path d="M252.40 222.50H451.00" stroke="#7a7a7a" stroke-width="1.2" fill="none"/>
<path d="M253.00 222.50v2.6M253.00 222.50h-2.8M286.00 222.50v2.6M253.00 190.70h-2.8M319.00 222.50v2.6M253.00 158.90h-2.8M352.00 222.50v2.6M253.00 127.10h-2.8M385.00 222.50v2.6M253.00 95.30h-2.8M418.00 222.50v2.6M253.00 63.50h-2.8M451.00 222.50v2.6M253.00 31.70h-2.8" stroke="#7a7a7a" stroke-width="1.0" fill="none"/>
<g font-family="Liberation Sans, sans-serif" font-size="8.3" fill="#262626" stroke="#262626" stroke-width="0.08"><text x="253.00" y="232.60" text-anchor="middle" textLength="4.39" lengthAdjust="spacingAndGlyphs">0</text><text x="248.90" y="225.40" text-anchor="end" textLength="4.39" lengthAdjust="spacingAndGlyphs">0</text><text x="286.00" y="232.60" text-anchor="middle" textLength="4.39" lengthAdjust="spacingAndGlyphs">5</text><text x="248.90" y="193.60" text-anchor="end" textLength="4.39" lengthAdjust="spacingAndGlyphs">5</text><text x="319.00" y="232.60" text-anchor="middle" textLength="8.79" lengthAdjust="spacingAndGlyphs">10</text><text x="248.90" y="161.80" text-anchor="end" textLength="8.79" lengthAdjust="spacingAndGlyphs">10</text><text x="352.00" y="232.60" text-anchor="middle" textLength="8.79" lengthAdjust="spacingAndGlyphs">15</text><text x="248.90" y="130.00" text-anchor="end" textLength="8.79" lengthAdjust="spacingAndGlyphs">15</text><text x="385.00" y="232.60" text-anchor="middle" textLength="8.79" lengthAdjust="spacingAndGlyphs">20</text><text x="248.90" y="98.20" text-anchor="end" textLength="8.79" lengthAdjust="spacingAndGlyphs">20</text><text x="418.00" y="232.60" text-anchor="middle" textLength="8.79" lengthAdjust="spacingAndGlyphs">25</text><text x="248.90" y="66.40" text-anchor="end" textLength="8.79" lengthAdjust="spacingAndGlyphs">25</text><text x="451.00" y="232.60" text-anchor="middle" textLength="8.79" lengthAdjust="spacingAndGlyphs">30</text><text x="248.90" y="34.60" text-anchor="end" textLength="8.79" lengthAdjust="spacingAndGlyphs">30</text></g>
<text x="352.00" y="241.20" text-anchor="middle" font-family="Liberation Sans, sans-serif" font-size="8.2" fill="#111" stroke="#111" stroke-width="0.1" textLength="83.21" lengthAdjust="spacingAndGlyphs">Observed SOC (g/kg)</text>
<text transform="translate(235.60,127.50) rotate(-90)" x="0" y="0" text-anchor="middle" font-family="Liberation Sans, sans-serif" font-size="8.2" fill="#111" stroke="#111" stroke-width="0.1" textLength="81.29" lengthAdjust="spacingAndGlyphs">Predicted SOC (g/kg)</text>
<g font-family="Liberation Sans, sans-serif" font-size="9.0" fill="#111" stroke="#111" stroke-width="0.12" text-anchor="middle">
<text x="352.00" y="7.00" textLength="59.75" lengthAdjust="spacingAndGlyphs">CNN - Median</text>
<text x="352.00" y="17.30" textLength="85.86" lengthAdjust="spacingAndGlyphs"><tspan font-style="italic" font-size="9.4">R</tspan><tspan font-size="6.30" dx="0.5" dy="-3.4">2</tspan><tspan dy="3.4"> = 0.737 ± 0.042</tspan></text>
<text x="352.00" y="27.20" textLength="100.60" lengthAdjust="spacingAndGlyphs">RMSE = 2.093 ± 0.171</text>
</g>
<rect x="257.20" y="36.90" width="94.4" height="26.8" fill="#fff" fill-opacity="0.8" stroke="#bdbdbd" stroke-width="0.8"/>
<line x1="260.60" y1="43.10" x2="277.40" y2="43.10" stroke="#de7a5c" stroke-width="1.3" stroke-dasharray="4.2 1.7"/>
<path d="M269.50 51.00V59.60M268.30 51.00h2.4M268.30 59.60h2.4" stroke="#f3a588" stroke-width="0.9"/>
<circle cx="269.50" cy="55.30" r="2.2" fill="#2270ec"/>
<g font-family="Liberation Serif, serif" font-size="8.75" fill="#111">
<text x="285.80" y="46.00">Perfect prediction</text>
<text x="285.80" y="58.20">Predictions</text>
</g>
<g stroke="#f7f7f7" stroke-width="1"><line x1="482.60" y1="222.50" x2="482.60" y2="31.70"/><line x1="482.60" y1="222.50" x2="680.60" y2="222.50"/><line x1="515.60" y1="222.50" x2="515.60" y2="31.70"/><line x1="482.60" y1="190.70" x2="680.60" y2="190.70"/><line x1="548.60" y1="222.50" x2="548.60" y2="31.70"/><line x1="482.60" y1="158.90" x2="680.60" y2="158.90"/><line x1="581.60" y1="222.50" x2="581.60" y2="31.70"/><line x1="482.60" y1="127.10" x2="680.60" y2="127.10"/><line x1="614.60" y1="222.50" x2="614.60" y2="31.70"/><line x1="482.60" y1="95.30" x2="680.60" y2="95.30"/><line x1="647.60" y1="222.50" x2="647.60" y2="31.70"/><line x1="482.60" y1="63.50" x2="680.60" y2="63.50"/><line x1="680.60" y1="222.50" x2="680.60" y2="31.70"/><line x1="482.60" y1="31.70" x2="680.60" y2="31.70"/></g>
<path d="M509.20 172.30V182.30M508.00 172.30h2.4M508.00 182.30h2.4M510.50 161.50V177.50M509.30 161.50h2.4M509.30 177.50h2.4M514.50 163.60V183.60M513.30 163.60h2.4M513.30 183.60h2.4M517.60 165.00V175.00M516.40 165.00h2.4M516.40 175.00h2.4M516.80 147.70V155.70M515.60 147.70h2.4M515.60 155.70h2.4M525.60 148.20V156.20M524.40 148.20h2.4M524.40 156.20h2.4M524.60 173.60V183.60M523.40 173.60h2.4M523.40 183.60h2.4M531.40 152.22V161.18M530.20 152.22h2.4M530.20 161.18h2.4M532.70 154.37V166.23M531.50 154.37h2.4M531.50 166.23h2.4M530.00 158.37V170.23M528.80 158.37h2.4M528.80 170.23h2.4M532.70 159.51V172.49M531.50 159.51h2.4M531.50 172.49h2.4M534.00 174.37V182.83M532.80 174.37h2.4M532.80 182.83h2.4M536.00 142.42V151.18M534.80 142.42h2.4M534.80 151.18h2.4M536.00 163.50V171.70M534.80 163.50h2.4M534.80 171.70h2.4M575.50 105.73V114.47M574.30 105.73h2.4M574.30 114.47h2.4M574.80 110.50V122.70M573.60 110.50h2.4M573.60 122.70h2.4M575.10 114.96V123.04M573.90 114.96h2.4M573.90 123.04h2.4M561.00 114.09V124.91M559.80 114.09h2.4M559.80 124.91h2.4M564.30 117.47V126.13M563.10 117.47h2.4M563.10 126.13h2.4M569.50 118.20V127.40M568.30 118.20h2.4M568.30 127.40h2.4M561.40 120.93V131.07M560.20 120.93h2.4M560.20 131.07h2.4M566.20 121.55V134.45M565.00 121.55h2.4M565.00 134.45h2.4M574.30 120.73V132.07M573.10 120.73h2.4M573.10 132.07h2.4M554.90 126.75V134.05M553.70 126.75h2.4M553.70 134.05h2.4M559.40 125.86V134.94M558.20 125.86h2.4M558.20 134.94h2.4M562.20 128.40V136.60M561.00 128.40h2.4M561.00 136.60h2.4M567.00 125.44V138.56M565.80 125.44h2.4M565.80 138.56h2.4M555.20 127.75V140.45M554.00 127.75h2.4M554.00 140.45h2.4M571.10 123.26V135.94M569.90 123.26h2.4M569.90 135.94h2.4M555.70 130.49V143.31M554.50 130.49h2.4M554.50 143.31h2.4M561.00 128.37V140.63M559.80 128.37h2.4M559.80 140.63h2.4M567.80 127.67V141.33M566.60 127.67h2.4M566.60 141.33h2.4M558.10 132.20V144.80M556.90 132.20h2.4M556.90 144.80h2.4M563.80 134.03V142.97M562.60 134.03h2.4M562.60 142.97h2.4M571.10 132.01V144.99M569.90 132.01h2.4M569.90 144.99h2.4M573.50 131.64V142.16M572.30 131.64h2.4M572.30 142.16h2.4M576.00 131.53V143.87M574.80 131.53h2.4M574.80 143.87h2.4M552.40 136.28V147.32M551.20 136.28h2.4M551.20 147.32h2.4M559.70 137.54V147.66M558.50 137.54h2.4M558.50 147.66h2.4M562.60 137.46V147.14M561.40 137.46h2.4M561.40 147.14h2.4M565.40 135.94V146.06M564.20 135.94h2.4M564.20 146.06h2.4M574.30 137.13V146.47M573.10 137.13h2.4M573.10 146.47h2.4M556.50 140.20V148.20M555.30 140.20h2.4M555.30 148.20h2.4M567.80 137.51V150.29M566.60 137.51h2.4M566.60 150.29h2.4M575.10 138.69V151.31M573.90 138.69h2.4M573.90 151.31h2.4M547.60 141.35V155.25M546.40 141.35h2.4M546.40 155.25h2.4M550.00 143.15V155.05M548.80 143.15h2.4M548.80 155.05h2.4M553.20 142.82V153.78M552.00 142.82h2.4M552.00 153.78h2.4M556.50 140.46V152.74M555.30 140.46h2.4M555.30 152.74h2.4M576.00 145.04V153.16M574.80 145.04h2.4M574.80 153.16h2.4M541.90 148.10V159.90M540.70 148.10h2.4M540.70 159.90h2.4M541.10 151.29V161.51M539.90 151.29h2.4M539.90 161.51h2.4M545.90 150.60V159.00M544.70 150.60h2.4M544.70 159.00h2.4M552.40 149.71V158.29M551.20 149.71h2.4M551.20 158.29h2.4M555.70 150.22V160.98M554.50 150.22h2.4M554.50 160.98h2.4M557.30 147.84V156.76M556.10 147.84h2.4M556.10 156.76h2.4M563.00 147.14V157.46M561.80 147.14h2.4M561.80 157.46h2.4M541.50 153.14V164.46M540.30 153.14h2.4M540.30 164.46h2.4M545.10 153.85V163.75M543.90 153.85h2.4M543.90 163.75h2.4M547.60 156.36V164.44M546.40 156.36h2.4M546.40 164.44h2.4M554.90 153.53V164.07M553.70 153.53h2.4M553.70 164.07h2.4M558.10 156.00V164.80M556.90 156.00h2.4M556.90 164.80h2.4M558.90 158.00V166.80M557.70 158.00h2.4M557.70 166.80h2.4M570.30 153.74V162.26M569.10 153.74h2.4M569.10 162.26h2.4M545.90 158.85V168.55M544.70 158.85h2.4M544.70 168.55h2.4M548.40 160.65V168.35M547.20 160.65h2.4M547.20 168.35h2.4M550.80 157.89V169.51M549.60 157.89h2.4M549.60 169.51h2.4M537.80 160.86V174.54M536.60 160.86h2.4M536.60 174.54h2.4M539.00 167.18V177.02M537.80 167.18h2.4M537.80 177.02h2.4M544.30 170.36V182.44M543.10 170.36h2.4M543.10 182.44h2.4M547.60 171.23V184.77M546.40 171.23h2.4M546.40 184.77h2.4M537.50 142.85V150.35M536.30 142.85h2.4M536.30 150.35h2.4M609.50 88.22V96.38M608.30 88.22h2.4M608.30 96.38h2.4M609.50 89.16V101.84M608.30 89.16h2.4M608.30 101.84h2.4M602.20 93.95V106.85M601.00 93.95h2.4M601.00 106.85h2.4M597.30 96.23V107.77M596.10 96.23h2.4M596.10 107.77h2.4M599.70 99.56V107.84M598.50 99.56h2.4M598.50 107.84h2.4M610.30 99.49V109.51M609.10 99.49h2.4M609.10 109.51h2.4M592.40 101.15V114.25M591.20 101.15h2.4M591.20 114.25h2.4M597.30 100.29V113.51M596.10 100.29h2.4M596.10 113.51h2.4M602.20 102.17V114.83M601.00 102.17h2.4M601.00 114.83h2.4M606.20 102.61V111.19M605.00 102.61h2.4M605.00 111.19h2.4M581.90 104.50V117.50M580.70 104.50h2.4M580.70 117.50h2.4M584.30 106.13V115.87M583.10 106.13h2.4M583.10 115.87h2.4M585.90 105.76V117.84M584.70 105.76h2.4M584.70 117.84h2.4M583.50 109.33V117.47M582.30 109.33h2.4M582.30 117.47h2.4M593.20 104.90V118.70M592.00 104.90h2.4M592.00 118.70h2.4M595.70 105.35V116.65M594.50 105.35h2.4M594.50 116.65h2.4M599.70 104.94V117.06M598.50 104.94h2.4M598.50 117.06h2.4M603.00 106.68V115.32M601.80 106.68h2.4M601.80 115.32h2.4M611.10 104.40V115.80M609.90 104.40h2.4M609.90 115.80h2.4M615.10 105.43V116.57M613.90 105.43h2.4M613.90 116.57h2.4M608.70 108.59V119.81M607.50 108.59h2.4M607.50 119.81h2.4M610.30 110.18V119.82M609.10 110.18h2.4M609.10 119.82h2.4M588.40 109.73V121.87M587.20 109.73h2.4M587.20 121.87h2.4M590.80 111.84V121.36M589.60 111.84h2.4M589.60 121.36h2.4M594.00 110.40V119.60M592.80 110.40h2.4M592.80 119.60h2.4M596.50 111.64V119.96M595.30 111.64h2.4M595.30 119.96h2.4M586.70 112.37V124.23M585.50 112.37h2.4M585.50 124.23h2.4M590.00 115.12V123.08M588.80 115.12h2.4M588.80 123.08h2.4M593.20 113.93V122.67M592.00 113.93h2.4M592.00 122.67h2.4M598.10 115.26V122.94M596.90 115.26h2.4M596.90 122.94h2.4M600.50 114.11V125.69M599.30 114.11h2.4M599.30 125.69h2.4M606.20 113.61V124.59M605.00 113.61h2.4M605.00 124.59h2.4M580.20 115.25V126.15M579.00 115.25h2.4M579.00 126.15h2.4M587.60 117.77V125.23M586.40 117.77h2.4M586.40 125.23h2.4M589.20 115.61V125.79M588.00 115.61h2.4M588.00 125.79h2.4M595.70 116.73V126.27M594.50 116.73h2.4M594.50 126.27h2.4M596.50 120.08V127.92M595.30 120.08h2.4M595.30 127.92h2.4M611.10 120.39V127.61M609.90 120.39h2.4M609.90 127.61h2.4M590.80 118.61V132.59M589.60 118.61h2.4M589.60 132.59h2.4M578.60 121.59V129.61M577.40 121.59h2.4M577.40 129.61h2.4M601.40 122.57V131.83M600.20 122.57h2.4M600.20 131.83h2.4M591.60 123.49V132.51M590.40 123.49h2.4M590.40 132.51h2.4M587.60 123.97V135.23M586.40 123.97h2.4M586.40 135.23h2.4M607.00 125.74V133.46M605.80 125.74h2.4M605.80 133.46h2.4M610.30 124.40V134.80M609.10 124.40h2.4M609.10 134.80h2.4M580.20 124.75V134.45M579.00 124.75h2.4M579.00 134.45h2.4M578.60 126.46V139.34M577.40 126.46h2.4M577.40 139.34h2.4M586.70 129.28V136.52M585.50 129.28h2.4M585.50 136.52h2.4M593.20 129.76V139.24M592.00 129.76h2.4M592.00 139.24h2.4M589.20 131.61V142.19M588.00 131.61h2.4M588.00 142.19h2.4M594.00 131.70V145.50M592.80 131.70h2.4M592.80 145.50h2.4M579.40 129.14V139.86M578.20 129.14h2.4M578.20 139.86h2.4M578.60 138.99V149.41M577.40 138.99h2.4M577.40 149.41h2.4M581.90 140.02V151.78M580.70 140.02h2.4M580.70 151.78h2.4M615.10 104.69V113.91M613.90 104.69h2.4M613.90 113.91h2.4M636.00 82.20V94.20M634.80 82.20h2.4M634.80 94.20h2.4M642.00 83.70V99.70M640.80 83.70h2.4M640.80 99.70h2.4M649.40 84.30V96.30M648.20 84.30h2.4M648.20 96.30h2.4M635.30 93.00V103.00M634.10 93.00h2.4M634.10 103.00h2.4M631.70 105.40V113.40M630.50 105.40h2.4M630.50 113.40h2.4M622.20 101.39V108.81M621.00 101.39h2.4M621.00 108.81h2.4M620.10 99.30V109.90M618.90 99.30h2.4M618.90 109.90h2.4M617.90 100.50V113.90M616.70 100.50h2.4M616.70 113.90h2.4M574.00 119.89V132.11M572.80 119.89h2.4M572.80 132.11h2.4M577.50 118.02V126.98M576.30 118.02h2.4M576.30 126.98h2.4M571.00 124.57V136.43M569.80 124.57h2.4M569.80 136.43h2.4" stroke="#f3a588" stroke-width="0.9" fill="none"/>
<line x1="482.60" y1="222.50" x2="673.34" y2="38.70" stroke="#de7a5c" stroke-width="1.2" stroke-dasharray="4.2 1.7"/>
<g fill="#2270ec"><circle cx="509.20" cy="177.30" r="2.2"/><circle cx="510.50" cy="169.50" r="2.2"/><circle cx="514.50" cy="173.60" r="2.2"/><circle cx="517.60" cy="170.00" r="2.2"/><circle cx="516.80" cy="151.70" r="2.2"/><circle cx="525.60" cy="152.20" r="2.2"/><circle cx="524.60" cy="178.60" r="2.2"/><circle cx="531.40" cy="156.70" r="2.2"/><circle cx="532.70" cy="160.30" r="2.2"/><circle cx="530.00" cy="164.30" r="2.2"/><circle cx="532.70" cy="166.00" r="2.2"/><circle cx="534.00" cy="178.60" r="2.2"/><circle cx="536.00" cy="146.80" r="2.2"/><circle cx="536.00" cy="167.60" r="2.2"/><circle cx="575.50" cy="110.10" r="2.2"/><circle cx="574.80" cy="116.60" r="2.2"/><circle cx="575.10" cy="119.00" r="2.2"/><circle cx="561.00" cy="119.50" r="2.2"/><circle cx="564.30" cy="121.80" r="2.2"/><circle cx="569.50" cy="122.80" r="2.2"/><circle cx="561.40" cy="126.00" r="2.2"/><circle cx="566.20" cy="128.00" r="2.2"/><circle cx="574.30" cy="126.40" r="2.2"/><circle cx="554.90" cy="130.40" r="2.2"/><circle cx="559.40" cy="130.40" r="2.2"/><circle cx="562.20" cy="132.50" r="2.2"/><circle cx="567.00" cy="132.00" r="2.2"/><circle cx="555.20" cy="134.10" r="2.2"/><circle cx="571.10" cy="129.60" r="2.2"/><circle cx="555.70" cy="136.90" r="2.2"/><circle cx="561.00" cy="134.50" r="2.2"/><circle cx="567.80" cy="134.50" r="2.2"/><circle cx="558.10" cy="138.50" r="2.2"/><circle cx="563.80" cy="138.50" r="2.2"/><circle cx="571.10" cy="138.50" r="2.2"/><circle cx="573.50" cy="136.90" r="2.2"/><circle cx="576.00" cy="137.70" r="2.2"/><circle cx="552.40" cy="141.80" r="2.2"/><circle cx="559.70" cy="142.60" r="2.2"/><circle cx="562.60" cy="142.30" r="2.2"/><circle cx="565.40" cy="141.00" r="2.2"/><circle cx="574.30" cy="141.80" r="2.2"/><circle cx="556.50" cy="144.20" r="2.2"/><circle cx="567.80" cy="143.90" r="2.2"/><circle cx="575.10" cy="145.00" r="2.2"/><circle cx="547.60" cy="148.30" r="2.2"/><circle cx="550.00" cy="149.10" r="2.2"/><circle cx="553.20" cy="148.30" r="2.2"/><circle cx="556.50" cy="146.60" r="2.2"/><circle cx="576.00" cy="149.10" r="2.2"/><circle cx="541.90" cy="154.00" r="2.2"/><circle cx="541.10" cy="156.40" r="2.2"/><circle cx="545.90" cy="154.80" r="2.2"/><circle cx="552.40" cy="154.00" r="2.2"/><circle cx="555.70" cy="155.60" r="2.2"/><circle cx="557.30" cy="152.30" r="2.2"/><circle cx="563.00" cy="152.30" r="2.2"/><circle cx="541.50" cy="158.80" r="2.2"/><circle cx="545.10" cy="158.80" r="2.2"/><circle cx="547.60" cy="160.40" r="2.2"/><circle cx="554.90" cy="158.80" r="2.2"/><circle cx="558.10" cy="160.40" r="2.2"/><circle cx="558.90" cy="162.40" r="2.2"/><circle cx="570.30" cy="158.00" r="2.2"/><circle cx="545.90" cy="163.70" r="2.2"/><circle cx="548.40" cy="164.50" r="2.2"/><circle cx="550.80" cy="163.70" r="2.2"/><circle cx="537.80" cy="167.70" r="2.2"/><circle cx="539.00" cy="172.10" r="2.2"/><circle cx="544.30" cy="176.40" r="2.2"/><circle cx="547.60" cy="178.00" r="2.2"/><circle cx="537.50" cy="146.60" r="2.2"/><circle cx="609.50" cy="92.30" r="2.2"/><circle cx="609.50" cy="95.50" r="2.2"/><circle cx="602.20" cy="100.40" r="2.2"/><circle cx="597.30" cy="102.00" r="2.2"/><circle cx="599.70" cy="103.70" r="2.2"/><circle cx="610.30" cy="104.50" r="2.2"/><circle cx="592.40" cy="107.70" r="2.2"/><circle cx="597.30" cy="106.90" r="2.2"/><circle cx="602.20" cy="108.50" r="2.2"/><circle cx="606.20" cy="106.90" r="2.2"/><circle cx="581.90" cy="111.00" r="2.2"/><circle cx="584.30" cy="111.00" r="2.2"/><circle cx="585.90" cy="111.80" r="2.2"/><circle cx="583.50" cy="113.40" r="2.2"/><circle cx="593.20" cy="111.80" r="2.2"/><circle cx="595.70" cy="111.00" r="2.2"/><circle cx="599.70" cy="111.00" r="2.2"/><circle cx="603.00" cy="111.00" r="2.2"/><circle cx="611.10" cy="110.10" r="2.2"/><circle cx="615.10" cy="111.00" r="2.2"/><circle cx="608.70" cy="114.20" r="2.2"/><circle cx="610.30" cy="115.00" r="2.2"/><circle cx="588.40" cy="115.80" r="2.2"/><circle cx="590.80" cy="116.60" r="2.2"/><circle cx="594.00" cy="115.00" r="2.2"/><circle cx="596.50" cy="115.80" r="2.2"/><circle cx="586.70" cy="118.30" r="2.2"/><circle cx="590.00" cy="119.10" r="2.2"/><circle cx="593.20" cy="118.30" r="2.2"/><circle cx="598.10" cy="119.10" r="2.2"/><circle cx="600.50" cy="119.90" r="2.2"/><circle cx="606.20" cy="119.10" r="2.2"/><circle cx="580.20" cy="120.70" r="2.2"/><circle cx="587.60" cy="121.50" r="2.2"/><circle cx="589.20" cy="120.70" r="2.2"/><circle cx="595.70" cy="121.50" r="2.2"/><circle cx="596.50" cy="124.00" r="2.2"/><circle cx="611.10" cy="124.00" r="2.2"/><circle cx="590.80" cy="125.60" r="2.2"/><circle cx="578.60" cy="125.60" r="2.2"/><circle cx="601.40" cy="127.20" r="2.2"/><circle cx="591.60" cy="128.00" r="2.2"/><circle cx="587.60" cy="129.60" r="2.2"/><circle cx="607.00" cy="129.60" r="2.2"/><circle cx="610.30" cy="129.60" r="2.2"/><circle cx="580.20" cy="129.60" r="2.2"/><circle cx="578.60" cy="132.90" r="2.2"/><circle cx="586.70" cy="132.90" r="2.2"/><circle cx="593.20" cy="134.50" r="2.2"/><circle cx="589.20" cy="136.90" r="2.2"/><circle cx="594.00" cy="138.60" r="2.2"/><circle cx="579.40" cy="134.50" r="2.2"/><circle cx="578.60" cy="144.20" r="2.2"/><circle cx="581.90" cy="145.90" r="2.2"/><circle cx="615.10" cy="109.30" r="2.2"/><circle cx="636.00" cy="88.20" r="2.2"/><circle cx="642.00" cy="91.70" r="2.2"/><circle cx="649.40" cy="90.30" r="2.2"/><circle cx="635.30" cy="98.00" r="2.2"/><circle cx="631.70" cy="109.40" r="2.2"/><circle cx="622.20" cy="105.10" r="2.2"/><circle cx="620.10" cy="104.60" r="2.2"/><circle cx="617.90" cy="107.20" r="2.2"/><circle cx="574.00" cy="126.00" r="2.2"/><circle cx="577.50" cy="122.50" r="2.2"/><circle cx="571.00" cy="130.50" r="2.2"/></g>
<path d="M482.60 31.70V222.50" stroke="#8e8e8e" stroke-width="1.2" fill="none"/>
<path d="M482.00 222.50H680.60" stroke="#7a7a7a" stroke-width="1.2" fill="none"/>
<path d="M482.60 222.50v2.6M482.60 222.50h-2.8M515.60 222.50v2.6M482.60 190.70h-2.8M548.60 222.50v2.6M482.60 158.90h-2.8M581.60 222.50v2.6M482.60 127.10h-2.8M614.60 222.50v2.6M482.60 95.30h-2.8M647.60 222.50v2.6M482.60 63.50h-2.8M680.60 222.50v2.6M482.60 31.70h-2.8" stroke="#7a7a7a" stroke-width="1.0" fill="none"/>
<g font-family="Liberation Sans, sans-serif" font-size="8.3" fill="#262626" stroke="#262626" stroke-width="0.08"><text x="482.60" y="232.60" text-anchor="middle" textLength="4.39" lengthAdjust="spacingAndGlyphs">0</text><text x="478.50" y="225.40" text-anchor="end" textLength="4.39" lengthAdjust="spacingAndGlyphs">0</text><text x="515.60" y="232.60" text-anchor="middle" textLength="4.39" lengthAdjust="spacingAndGlyphs">5</text><text x="478.50" y="193.60" text-anchor="end" textLength="4.39" lengthAdjust="spacingAndGlyphs">5</text><text x="548.60" y="232.60" text-anchor="middle" textLength="8.79" lengthAdjust="spacingAndGlyphs">10</text><text x="478.50" y="161.80" text-anchor="end" textLength="8.79" lengthAdjust="spacingAndGlyphs">10</text><text x="581.60" y="232.60" text-anchor="middle" textLength="8.79" lengthAdjust="spacingAndGlyphs">15</text><text x="478.50" y="130.00" text-anchor="end" textLength="8.79" lengthAdjust="spacingAndGlyphs">15</text><text x="614.60" y="232.60" text-anchor="middle" textLength="8.79" lengthAdjust="spacingAndGlyphs">20</text><text x="478.50" y="98.20" text-anchor="end" textLength="8.79" lengthAdjust="spacingAndGlyphs">20</text><text x="647.60" y="232.60" text-anchor="middle" textLength="8.79" lengthAdjust="spacingAndGlyphs">25</text><text x="478.50" y="66.40" text-anchor="end" textLength="8.79" lengthAdjust="spacingAndGlyphs">25</text><text x="680.60" y="232.60" text-anchor="middle" textLength="8.79" lengthAdjust="spacingAndGlyphs">30</text><text x="478.50" y="34.60" text-anchor="end" textLength="8.79" lengthAdjust="spacingAndGlyphs">30</text></g>
<text x="581.60" y="241.20" text-anchor="middle" font-family="Liberation Sans, sans-serif" font-size="8.2" fill="#111" stroke="#111" stroke-width="0.1" textLength="83.21" lengthAdjust="spacingAndGlyphs">Observed SOC (g/kg)</text>
<text transform="translate(465.20,127.50) rotate(-90)" x="0" y="0" text-anchor="middle" font-family="Liberation Sans, sans-serif" font-size="8.2" fill="#111" stroke="#111" stroke-width="0.1" textLength="81.29" lengthAdjust="spacingAndGlyphs">Predicted SOC (g/kg)</text>
<g font-family="Liberation Sans, sans-serif" font-size="9.0" fill="#111" stroke="#111" stroke-width="0.12" text-anchor="middle">
<text x="581.60" y="7.00" textLength="59.32" lengthAdjust="spacingAndGlyphs">XGB - Median</text>
<text x="581.60" y="17.30" textLength="85.86" lengthAdjust="spacingAndGlyphs"><tspan font-style="italic" font-size="9.4">R</tspan><tspan font-size="6.30" dx="0.5" dy="-3.4">2</tspan><tspan dy="3.4"> = 0.715 ± 0.049</tspan></text>
<text x="581.60" y="27.20" textLength="100.60" lengthAdjust="spacingAndGlyphs">RMSE = 2.174 ± 0.166</text>
</g>
<rect x="486.80" y="36.90" width="94.4" height="26.8" fill="#fff" fill-opacity="0.8" stroke="#bdbdbd" stroke-width="0.8"/>
<line x1="490.20" y1="43.10" x2="507.00" y2="43.10" stroke="#de7a5c" stroke-width="1.3" stroke-dasharray="4.2 1.7"/>
<path d="M499.10 51.00V59.60M497.90 51.00h2.4M497.90 59.60h2.4" stroke="#f3a588" stroke-width="0.9"/>
<circle cx="499.10" cy="55.30" r="2.2" fill="#2270ec"/>
<g font-family="Liberation Serif, serif" font-size="8.75" fill="#111">
<text x="515.40" y="46.00">Perfect prediction</text>
<text x="515.40" y="58.20">Predictions</text>
</g>
<g stroke="#f7f7f7" stroke-width="1"><line x1="23.40" y1="471.70" x2="23.40" y2="280.90"/><line x1="23.40" y1="471.70" x2="221.40" y2="471.70"/><line x1="56.40" y1="471.70" x2="56.40" y2="280.90"/><line x1="23.40" y1="439.90" x2="221.40" y2="439.90"/><line x1="89.40" y1="471.70" x2="89.40" y2="280.90"/><line x1="23.40" y1="408.10" x2="221.40" y2="408.10"/><line x1="122.40" y1="471.70" x2="122.40" y2="280.90"/><line x1="23.40" y1="376.30" x2="221.40" y2="376.30"/><line x1="155.40" y1="471.70" x2="155.40" y2="280.90"/><line x1="23.40" y1="344.50" x2="221.40" y2="344.50"/><line x1="188.40" y1="471.70" x2="188.40" y2="280.90"/><line x1="23.40" y1="312.70" x2="221.40" y2="312.70"/><line x1="221.40" y1="471.70" x2="221.40" y2="280.90"/><line x1="23.40" y1="280.90" x2="221.40" y2="280.90"/></g>
<path d="M49.40 428.27V435.73M48.20 428.27h2.4M48.20 435.73h2.4M51.00 427.52V438.68M49.80 427.52h2.4M49.80 438.68h2.4M55.20 434.18V445.02M54.00 434.18h2.4M54.00 445.02h2.4M57.60 409.08V421.72M56.40 409.08h2.4M56.40 421.72h2.4M58.30 413.66V422.14M57.10 413.66h2.4M57.10 422.14h2.4M65.30 435.91V444.29M64.10 435.91h2.4M64.10 444.29h2.4M66.40 399.22V410.58M65.20 399.22h2.4M65.20 410.58h2.4M72.10 397.86V408.74M70.90 397.86h2.4M70.90 408.74h2.4M72.90 410.66V419.34M71.70 410.66h2.4M71.70 419.34h2.4M73.70 408.58V419.62M72.50 408.58h2.4M72.50 419.62h2.4M70.50 425.77V435.03M69.30 425.77h2.4M69.30 435.03h2.4M74.50 425.69V437.31M73.30 425.69h2.4M73.30 437.31h2.4M77.00 401.93V409.47M75.80 401.93h2.4M75.80 409.47h2.4M77.00 409.71V417.89M75.80 409.71h2.4M75.80 417.89h2.4M116.10 349.71V362.09M114.90 349.71h2.4M114.90 362.09h2.4M115.00 356.59V365.61M113.80 356.59h2.4M113.80 365.61h2.4M115.70 360.59V369.01M114.50 360.59h2.4M114.50 369.01h2.4M101.50 358.91V370.69M100.30 358.91h2.4M100.30 370.69h2.4M106.40 365.94V376.66M105.20 365.94h2.4M105.20 376.66h2.4M108.00 367.94V375.66M106.80 367.94h2.4M106.80 375.66h2.4M112.10 363.39V373.61M110.90 363.39h2.4M110.90 373.61h2.4M111.80 371.54V382.46M110.60 371.54h2.4M110.60 382.46h2.4M99.60 370.99V378.81M98.40 370.99h2.4M98.40 378.81h2.4M102.40 373.98V384.82M101.20 373.98h2.4M101.20 384.82h2.4M103.20 378.02V385.58M102.00 378.02h2.4M102.00 385.58h2.4M108.00 376.56V385.44M106.80 376.56h2.4M106.80 385.44h2.4M104.80 381.44V388.76M103.60 381.44h2.4M103.60 388.76h2.4M95.00 381.57V389.63M93.80 381.57h2.4M93.80 389.63h2.4M99.10 379.97V392.83M97.90 379.97h2.4M97.90 392.83h2.4M95.90 385.35V394.65M94.70 385.35h2.4M94.70 394.65h2.4M101.50 384.33V397.27M100.30 384.33h2.4M100.30 397.27h2.4M110.50 383.54V393.06M109.30 383.54h2.4M109.30 393.06h2.4M113.70 383.02V393.58M112.50 383.02h2.4M112.50 393.58h2.4M116.10 375.69V387.91M114.90 375.69h2.4M114.90 387.91h2.4M116.10 380.37V391.43M114.90 380.37h2.4M114.90 391.43h2.4M117.00 388.65V396.15M115.80 388.65h2.4M115.80 396.15h2.4M85.30 389.97V400.43M84.10 389.97h2.4M84.10 400.43h2.4M82.10 392.74V403.46M80.90 392.74h2.4M80.90 403.46h2.4M92.60 390.54V398.46M91.40 390.54h2.4M91.40 398.46h2.4M97.50 391.51V398.89M96.30 391.51h2.4M96.30 398.89h2.4M104.00 387.89V400.11M102.80 387.89h2.4M102.80 400.11h2.4M91.00 393.91V403.89M89.80 393.91h2.4M89.80 403.89h2.4M94.20 395.70V403.70M93.00 395.70h2.4M93.00 403.70h2.4M100.70 394.10V403.70M99.50 394.10h2.4M99.50 403.70h2.4M104.00 394.32V402.48M102.80 394.32h2.4M102.80 402.48h2.4M108.80 394.63V406.37M107.60 394.63h2.4M107.60 406.37h2.4M88.60 398.05V407.95M87.40 398.05h2.4M87.40 407.95h2.4M95.00 399.28V406.72M93.80 399.28h2.4M93.80 406.72h2.4M100.70 397.06V408.94M99.50 397.06h2.4M99.50 408.94h2.4M82.10 403.32V410.68M80.90 403.32h2.4M80.90 410.68h2.4M87.70 401.93V410.47M86.50 401.93h2.4M86.50 410.47h2.4M93.40 402.71V409.69M92.20 402.71h2.4M92.20 409.69h2.4M96.70 401.30V412.70M95.50 401.30h2.4M95.50 412.70h2.4M99.10 404.05V411.55M97.90 404.05h2.4M97.90 411.55h2.4M110.50 403.07V413.13M109.30 403.07h2.4M109.30 413.13h2.4M87.70 406.61V413.99M86.50 406.61h2.4M86.50 413.99h2.4M91.80 404.51V414.29M90.60 404.51h2.4M90.60 414.29h2.4M79.60 407.18V418.22M78.40 407.18h2.4M78.40 418.22h2.4M86.90 408.44V418.56M85.70 408.44h2.4M85.70 418.56h2.4M98.30 408.69V418.31M97.10 408.69h2.4M97.10 418.31h2.4M90.20 409.40V419.20M89.00 409.40h2.4M89.00 419.20h2.4M86.10 411.95V421.45M84.90 411.95h2.4M84.90 421.45h2.4M89.40 412.35V422.85M88.20 412.35h2.4M88.20 422.85h2.4M86.90 416.31V423.69M85.70 416.31h2.4M85.70 423.69h2.4M85.30 416.23V425.97M84.10 416.23h2.4M84.10 425.97h2.4M87.70 418.27V426.53M86.50 418.27h2.4M86.50 426.53h2.4M137.20 336.02V348.18M136.00 336.02h2.4M136.00 348.18h2.4M143.20 335.49V348.11M142.00 335.49h2.4M142.00 348.11h2.4M150.00 338.19V345.41M148.80 338.19h2.4M148.80 345.41h2.4M137.50 341.56V349.24M136.30 341.56h2.4M136.30 349.24h2.4M140.20 344.62V355.78M139.00 344.62h2.4M139.00 355.78h2.4M150.80 341.83V352.17M149.60 341.83h2.4M149.60 352.17h2.4M156.10 342.74V349.66M154.90 342.74h2.4M154.90 349.66h2.4M122.50 345.41V356.59M121.30 345.41h2.4M121.30 356.59h2.4M146.90 344.67V357.33M145.70 344.67h2.4M145.70 357.33h2.4M151.80 347.99V357.41M150.60 347.99h2.4M150.60 357.41h2.4M152.40 349.82V358.78M151.20 349.82h2.4M151.20 358.78h2.4M126.90 352.33V362.67M125.70 352.33h2.4M125.70 362.67h2.4M132.60 350.39V363.01M131.40 350.39h2.4M131.40 363.01h2.4M137.50 350.88V359.32M136.30 350.88h2.4M136.30 359.32h2.4M142.40 352.06V360.74M141.20 352.06h2.4M141.20 360.74h2.4M122.10 356.41V364.39M120.90 356.41h2.4M120.90 364.39h2.4M125.30 355.95V366.65M124.10 355.95h2.4M124.10 366.65h2.4M131.80 356.75V366.45M130.60 356.75h2.4M130.60 366.45h2.4M134.20 355.81V364.19M133.00 355.81h2.4M133.00 364.19h2.4M136.70 356.20V365.40M135.50 356.20h2.4M135.50 365.40h2.4M139.90 355.59V362.61M138.70 355.59h2.4M138.70 362.61h2.4M144.00 356.43V365.17M142.80 356.43h2.4M142.80 365.17h2.4M128.60 357.05V369.95M127.40 357.05h2.4M127.40 369.95h2.4M133.40 358.78V369.22M132.20 358.78h2.4M132.20 369.22h2.4M138.30 359.72V368.28M137.10 359.72h2.4M137.10 368.28h2.4M121.20 359.30V371.90M120.00 359.30h2.4M120.00 371.90h2.4M124.50 361.99V371.01M123.30 361.99h2.4M123.30 371.01h2.4M139.90 362.32V370.68M138.70 362.32h2.4M138.70 370.68h2.4M148.00 361.29V368.31M146.80 361.29h2.4M146.80 368.31h2.4M150.50 360.15V367.85M149.30 360.15h2.4M149.30 367.85h2.4M156.10 359.98V368.02M154.90 359.98h2.4M154.90 368.02h2.4M151.30 363.19V371.41M150.10 363.19h2.4M150.10 371.41h2.4M147.20 361.99V374.21M146.00 361.99h2.4M146.00 374.21h2.4M141.50 363.88V372.32M140.30 363.88h2.4M140.30 372.32h2.4M132.60 363.93V372.27M131.40 363.93h2.4M131.40 372.27h2.4M128.60 365.23V375.77M127.40 365.23h2.4M127.40 375.77h2.4M131.00 366.36V378.84M129.80 366.36h2.4M129.80 378.84h2.4M137.50 369.00V377.60M136.30 369.00h2.4M136.30 377.60h2.4M128.60 370.44V381.96M127.40 370.44h2.4M127.40 381.96h2.4M132.60 370.86V379.94M131.40 370.86h2.4M131.40 379.94h2.4M118.80 370.26V380.54M117.60 370.26h2.4M117.60 380.54h2.4M148.00 371.25V381.75M146.80 371.25h2.4M146.80 381.75h2.4M152.10 370.68V383.32M150.90 370.68h2.4M150.90 383.32h2.4M131.80 373.35V384.85M130.60 373.35h2.4M130.60 384.85h2.4M119.60 373.62V383.58M118.40 373.62h2.4M118.40 383.58h2.4M121.20 375.39V387.41M120.00 375.39h2.4M120.00 387.41h2.4M134.70 377.36V386.44M133.50 377.36h2.4M133.50 386.44h2.4M122.10 378.91V388.09M120.90 378.91h2.4M120.90 388.09h2.4M129.40 378.72V391.48M128.20 378.72h2.4M128.20 391.48h2.4M118.80 384.11V394.29M117.60 384.11h2.4M117.60 394.29h2.4M119.60 385.00V396.60M118.40 385.00h2.4M118.40 396.60h2.4M118.80 392.13V400.87M117.60 392.13h2.4M117.60 400.87h2.4M182.70 314.40V332.40M181.50 314.40h2.4M181.50 332.40h2.4M190.10 328.80V338.80M188.90 328.80h2.4M188.90 338.80h2.4M177.00 326.00V334.00M175.80 326.00h2.4M175.80 334.00h2.4M175.90 343.00V351.00M174.70 343.00h2.4M174.70 351.00h2.4M172.30 354.60V360.60M171.10 354.60h2.4M171.10 360.60h2.4M162.80 341.90V353.90M161.60 341.90h2.4M161.60 353.90h2.4M159.40 350.76V363.24M158.20 350.76h2.4M158.20 363.24h2.4M161.10 355.30V367.30M159.90 355.30h2.4M159.90 367.30h2.4M118.00 375.70V386.30M116.80 375.70h2.4M116.80 386.30h2.4M121.00 375.83V384.17M119.80 375.83h2.4M119.80 384.17h2.4M117.00 379.71V392.29M115.80 379.71h2.4M115.80 392.29h2.4M121.00 383.15V392.85M119.80 383.15h2.4M119.80 392.85h2.4M118.00 386.05V394.95M116.80 386.05h2.4M116.80 394.95h2.4M104.00 377.79V386.21M102.80 377.79h2.4M102.80 386.21h2.4M107.00 379.78V387.22M105.80 379.78h2.4M105.80 387.22h2.4M122.00 360.98V369.02M120.80 360.98h2.4M120.80 369.02h2.4M126.00 356.45V367.55M124.80 356.45h2.4M124.80 367.55h2.4" stroke="#f3a588" stroke-width="0.9" fill="none"/>
<line x1="23.40" y1="471.70" x2="214.14" y2="287.90" stroke="#de7a5c" stroke-width="1.2" stroke-dasharray="4.2 1.7"/>
<g fill="#2270ec"><circle cx="49.40" cy="432.00" r="2.2"/><circle cx="51.00" cy="433.10" r="2.2"/><circle cx="55.20" cy="439.60" r="2.2"/><circle cx="57.60" cy="415.40" r="2.2"/><circle cx="58.30" cy="417.90" r="2.2"/><circle cx="65.30" cy="440.10" r="2.2"/><circle cx="66.40" cy="404.90" r="2.2"/><circle cx="72.10" cy="403.30" r="2.2"/><circle cx="72.90" cy="415.00" r="2.2"/><circle cx="73.70" cy="414.10" r="2.2"/><circle cx="70.50" cy="430.40" r="2.2"/><circle cx="74.50" cy="431.50" r="2.2"/><circle cx="77.00" cy="405.70" r="2.2"/><circle cx="77.00" cy="413.80" r="2.2"/><circle cx="116.10" cy="355.90" r="2.2"/><circle cx="115.00" cy="361.10" r="2.2"/><circle cx="115.70" cy="364.80" r="2.2"/><circle cx="101.50" cy="364.80" r="2.2"/><circle cx="106.40" cy="371.30" r="2.2"/><circle cx="108.00" cy="371.80" r="2.2"/><circle cx="112.10" cy="368.50" r="2.2"/><circle cx="111.80" cy="377.00" r="2.2"/><circle cx="99.60" cy="374.90" r="2.2"/><circle cx="102.40" cy="379.40" r="2.2"/><circle cx="103.20" cy="381.80" r="2.2"/><circle cx="108.00" cy="381.00" r="2.2"/><circle cx="104.80" cy="385.10" r="2.2"/><circle cx="95.00" cy="385.60" r="2.2"/><circle cx="99.10" cy="386.40" r="2.2"/><circle cx="95.90" cy="390.00" r="2.2"/><circle cx="101.50" cy="390.80" r="2.2"/><circle cx="110.50" cy="388.30" r="2.2"/><circle cx="113.70" cy="388.30" r="2.2"/><circle cx="116.10" cy="381.80" r="2.2"/><circle cx="116.10" cy="385.90" r="2.2"/><circle cx="117.00" cy="392.40" r="2.2"/><circle cx="85.30" cy="395.20" r="2.2"/><circle cx="82.10" cy="398.10" r="2.2"/><circle cx="92.60" cy="394.50" r="2.2"/><circle cx="97.50" cy="395.20" r="2.2"/><circle cx="104.00" cy="394.00" r="2.2"/><circle cx="91.00" cy="398.90" r="2.2"/><circle cx="94.20" cy="399.70" r="2.2"/><circle cx="100.70" cy="398.90" r="2.2"/><circle cx="104.00" cy="398.40" r="2.2"/><circle cx="108.80" cy="400.50" r="2.2"/><circle cx="88.60" cy="403.00" r="2.2"/><circle cx="95.00" cy="403.00" r="2.2"/><circle cx="100.70" cy="403.00" r="2.2"/><circle cx="82.10" cy="407.00" r="2.2"/><circle cx="87.70" cy="406.20" r="2.2"/><circle cx="93.40" cy="406.20" r="2.2"/><circle cx="96.70" cy="407.00" r="2.2"/><circle cx="99.10" cy="407.80" r="2.2"/><circle cx="110.50" cy="408.10" r="2.2"/><circle cx="87.70" cy="410.30" r="2.2"/><circle cx="91.80" cy="409.40" r="2.2"/><circle cx="79.60" cy="412.70" r="2.2"/><circle cx="86.90" cy="413.50" r="2.2"/><circle cx="98.30" cy="413.50" r="2.2"/><circle cx="90.20" cy="414.30" r="2.2"/><circle cx="86.10" cy="416.70" r="2.2"/><circle cx="89.40" cy="417.60" r="2.2"/><circle cx="86.90" cy="420.00" r="2.2"/><circle cx="85.30" cy="421.10" r="2.2"/><circle cx="87.70" cy="422.40" r="2.2"/><circle cx="137.20" cy="342.10" r="2.2"/><circle cx="143.20" cy="341.80" r="2.2"/><circle cx="150.00" cy="341.80" r="2.2"/><circle cx="137.50" cy="345.40" r="2.2"/><circle cx="140.20" cy="350.20" r="2.2"/><circle cx="150.80" cy="347.00" r="2.2"/><circle cx="156.10" cy="346.20" r="2.2"/><circle cx="122.50" cy="351.00" r="2.2"/><circle cx="146.90" cy="351.00" r="2.2"/><circle cx="151.80" cy="352.70" r="2.2"/><circle cx="152.40" cy="354.30" r="2.2"/><circle cx="126.90" cy="357.50" r="2.2"/><circle cx="132.60" cy="356.70" r="2.2"/><circle cx="137.50" cy="355.10" r="2.2"/><circle cx="142.40" cy="356.40" r="2.2"/><circle cx="122.10" cy="360.40" r="2.2"/><circle cx="125.30" cy="361.30" r="2.2"/><circle cx="131.80" cy="361.60" r="2.2"/><circle cx="134.20" cy="360.00" r="2.2"/><circle cx="136.70" cy="360.80" r="2.2"/><circle cx="139.90" cy="359.10" r="2.2"/><circle cx="144.00" cy="360.80" r="2.2"/><circle cx="128.60" cy="363.50" r="2.2"/><circle cx="133.40" cy="364.00" r="2.2"/><circle cx="138.30" cy="364.00" r="2.2"/><circle cx="121.20" cy="365.60" r="2.2"/><circle cx="124.50" cy="366.50" r="2.2"/><circle cx="139.90" cy="366.50" r="2.2"/><circle cx="148.00" cy="364.80" r="2.2"/><circle cx="150.50" cy="364.00" r="2.2"/><circle cx="156.10" cy="364.00" r="2.2"/><circle cx="151.30" cy="367.30" r="2.2"/><circle cx="147.20" cy="368.10" r="2.2"/><circle cx="141.50" cy="368.10" r="2.2"/><circle cx="132.60" cy="368.10" r="2.2"/><circle cx="128.60" cy="370.50" r="2.2"/><circle cx="131.00" cy="372.60" r="2.2"/><circle cx="137.50" cy="373.30" r="2.2"/><circle cx="128.60" cy="376.20" r="2.2"/><circle cx="132.60" cy="375.40" r="2.2"/><circle cx="118.80" cy="375.40" r="2.2"/><circle cx="148.00" cy="376.50" r="2.2"/><circle cx="152.10" cy="377.00" r="2.2"/><circle cx="131.80" cy="379.10" r="2.2"/><circle cx="119.60" cy="378.60" r="2.2"/><circle cx="121.20" cy="381.40" r="2.2"/><circle cx="134.70" cy="381.90" r="2.2"/><circle cx="122.10" cy="383.50" r="2.2"/><circle cx="129.40" cy="385.10" r="2.2"/><circle cx="118.80" cy="389.20" r="2.2"/><circle cx="119.60" cy="390.80" r="2.2"/><circle cx="118.80" cy="396.50" r="2.2"/><circle cx="182.70" cy="323.40" r="2.2"/><circle cx="190.10" cy="333.80" r="2.2"/><circle cx="177.00" cy="330.00" r="2.2"/><circle cx="175.90" cy="347.00" r="2.2"/><circle cx="172.30" cy="357.60" r="2.2"/><circle cx="162.80" cy="347.90" r="2.2"/><circle cx="159.40" cy="357.00" r="2.2"/><circle cx="161.10" cy="361.30" r="2.2"/><circle cx="118.00" cy="381.00" r="2.2"/><circle cx="121.00" cy="380.00" r="2.2"/><circle cx="117.00" cy="386.00" r="2.2"/><circle cx="121.00" cy="388.00" r="2.2"/><circle cx="118.00" cy="390.50" r="2.2"/><circle cx="104.00" cy="382.00" r="2.2"/><circle cx="107.00" cy="383.50" r="2.2"/><circle cx="122.00" cy="365.00" r="2.2"/><circle cx="126.00" cy="362.00" r="2.2"/></g>
<path d="M23.40 280.90V471.70" stroke="#8e8e8e" stroke-width="1.2" fill="none"/>
<path d="M22.80 471.70H221.40" stroke="#7a7a7a" stroke-width="1.2" fill="none"/>
<path d="M23.40 471.70v2.6M23.40 471.70h-2.8M56.40 471.70v2.6M23.40 439.90h-2.8M89.40 471.70v2.6M23.40 408.10h-2.8M122.40 471.70v2.6M23.40 376.30h-2.8M155.40 471.70v2.6M23.40 344.50h-2.8M188.40 471.70v2.6M23.40 312.70h-2.8M221.40 471.70v2.6M23.40 280.90h-2.8" stroke="#7a7a7a" stroke-width="1.0" fill="none"/>
<g font-family="Liberation Sans, sans-serif" font-size="8.3" fill="#262626" stroke="#262626" stroke-width="0.08"><text x="23.40" y="481.80" text-anchor="middle" textLength="4.39" lengthAdjust="spacingAndGlyphs">0</text><text x="19.30" y="474.60" text-anchor="end" textLength="4.39" lengthAdjust="spacingAndGlyphs">0</text><text x="56.40" y="481.80" text-anchor="middle" textLength="4.39" lengthAdjust="spacingAndGlyphs">5</text><text x="19.30" y="442.80" text-anchor="end" textLength="4.39" lengthAdjust="spacingAndGlyphs">5</text><text x="89.40" y="481.80" text-anchor="middle" textLength="8.79" lengthAdjust="spacingAndGlyphs">10</text><text x="19.30" y="411.00" text-anchor="end" textLength="8.79" lengthAdjust="spacingAndGlyphs">10</text><text x="122.40" y="481.80" text-anchor="middle" textLength="8.79" lengthAdjust="spacingAndGlyphs">15</text><text x="19.30" y="379.20" text-anchor="end" textLength="8.79" lengthAdjust="spacingAndGlyphs">15</text><text x="155.40" y="481.80" text-anchor="middle" textLength="8.79" lengthAdjust="spacingAndGlyphs">20</text><text x="19.30" y="347.40" text-anchor="end" textLength="8.79" lengthAdjust="spacingAndGlyphs">20</text><text x="188.40" y="481.80" text-anchor="middle" textLength="8.79" lengthAdjust="spacingAndGlyphs">25</text><text x="19.30" y="315.60" text-anchor="end" textLength="8.79" lengthAdjust="spacingAndGlyphs">25</text><text x="221.40" y="481.80" text-anchor="middle" textLength="8.79" lengthAdjust="spacingAndGlyphs">30</text><text x="19.30" y="283.80" text-anchor="end" textLength="8.79" lengthAdjust="spacingAndGlyphs">30</text></g>
<text x="122.40" y="490.40" text-anchor="middle" font-family="Liberation Sans, sans-serif" font-size="8.2" fill="#111" stroke="#111" stroke-width="0.1" textLength="83.21" lengthAdjust="spacingAndGlyphs">Observed SOC (g/kg)</text>
<text transform="translate(6.00,376.70) rotate(-90)" x="0" y="0" text-anchor="middle" font-family="Liberation Sans, sans-serif" font-size="8.2" fill="#111" stroke="#111" stroke-width="0.1" textLength="81.29" lengthAdjust="spacingAndGlyphs">Predicted SOC (g/kg)</text>
<g font-family="Liberation Sans, sans-serif" font-size="9.0" fill="#111" stroke="#111" stroke-width="0.12" text-anchor="middle">
<text x="122.40" y="256.20" textLength="57.60" lengthAdjust="spacingAndGlyphs">TabPFN - R90</text>
<text x="122.40" y="266.50" textLength="85.86" lengthAdjust="spacingAndGlyphs"><tspan font-style="italic" font-size="9.4">R</tspan><tspan font-size="6.30" dx="0.5" dy="-3.4">2</tspan><tspan dy="3.4"> = 0.753 ± 0.046</tspan></text>
<text x="122.40" y="276.40" textLength="100.60" lengthAdjust="spacingAndGlyphs">RMSE = 2.019 ± 0.147</text>
</g>
<rect x="27.60" y="286.10" width="94.4" height="26.8" fill="#fff" fill-opacity="0.8" stroke="#bdbdbd" stroke-width="0.8"/>
<line x1="31.00" y1="292.30" x2="47.80" y2="292.30" stroke="#de7a5c" stroke-width="1.3" stroke-dasharray="4.2 1.7"/>
<path d="M39.90 300.20V308.80M38.70 300.20h2.4M38.70 308.80h2.4" stroke="#f3a588" stroke-width="0.9"/>
<circle cx="39.90" cy="304.50" r="2.2" fill="#2270ec"/>
<g font-family="Liberation Serif, serif" font-size="8.75" fill="#111">
<text x="56.20" y="295.20">Perfect prediction</text>
<text x="56.20" y="307.40">Predictions</text>
</g>
<g stroke="#f7f7f7" stroke-width="1"><line x1="253.00" y1="471.70" x2="253.00" y2="280.90"/><line x1="253.00" y1="471.70" x2="451.00" y2="471.70"/><line x1="286.00" y1="471.70" x2="286.00" y2="280.90"/><line x1="253.00" y1="439.90" x2="451.00" y2="439.90"/><line x1="319.00" y1="471.70" x2="319.00" y2="280.90"/><line x1="253.00" y1="408.10" x2="451.00" y2="408.10"/><line x1="352.00" y1="471.70" x2="352.00" y2="280.90"/><line x1="253.00" y1="376.30" x2="451.00" y2="376.30"/><line x1="385.00" y1="471.70" x2="385.00" y2="280.90"/><line x1="253.00" y1="344.50" x2="451.00" y2="344.50"/><line x1="418.00" y1="471.70" x2="418.00" y2="280.90"/><line x1="253.00" y1="312.70" x2="451.00" y2="312.70"/><line x1="451.00" y1="471.70" x2="451.00" y2="280.90"/><line x1="253.00" y1="280.90" x2="451.00" y2="280.90"/></g>
<path d="M279.40 422.60V432.60M278.20 422.60h2.4M278.20 432.60h2.4M280.70 426.00V442.00M279.50 426.00h2.4M279.50 442.00h2.4M284.70 424.90V436.90M283.50 424.90h2.4M283.50 436.90h2.4M287.20 408.70V418.70M286.00 408.70h2.4M286.00 418.70h2.4M288.00 417.60V429.60M286.80 417.60h2.4M286.80 429.60h2.4M295.00 437.00V461.00M293.80 437.00h2.4M293.80 461.00h2.4M296.10 379.70V397.70M294.90 379.70h2.4M294.90 397.70h2.4M301.80 397.60V409.60M300.60 397.60h2.4M300.60 409.60h2.4M302.90 399.19V418.81M301.70 399.19h2.4M301.70 418.81h2.4M303.70 405.50V419.50M302.50 405.50h2.4M302.50 419.50h2.4M300.10 421.00V431.00M298.90 421.00h2.4M298.90 431.00h2.4M306.50 406.04V415.16M305.30 406.04h2.4M305.30 415.16h2.4M306.50 415.85V432.95M305.30 415.85h2.4M305.30 432.95h2.4M335.90 355.73V366.47M334.70 355.73h2.4M334.70 366.47h2.4M338.00 355.98V375.82M336.80 355.98h2.4M336.80 375.82h2.4M331.20 357.80V371.80M330.00 357.80h2.4M330.00 371.80h2.4M345.00 352.91V362.09M343.80 352.91h2.4M343.80 362.09h2.4M345.70 345.76V364.44M344.50 345.76h2.4M344.50 364.44h2.4M344.50 359.75V376.25M343.30 359.75h2.4M343.30 376.25h2.4M341.30 362.58V381.02M340.10 362.58h2.4M340.10 381.02h2.4M345.30 365.40V385.40M344.10 365.40h2.4M344.10 385.40h2.4M329.40 369.58V381.22M328.20 369.58h2.4M328.20 381.22h2.4M332.40 374.64V387.36M331.20 374.64h2.4M331.20 387.36h2.4M338.00 373.40V390.20M336.80 373.40h2.4M336.80 390.20h2.4M342.10 372.56V384.64M340.90 372.56h2.4M340.90 384.64h2.4M345.30 375.85V387.75M344.10 375.85h2.4M344.10 387.75h2.4M325.00 380.64V392.16M323.80 380.64h2.4M323.80 392.16h2.4M328.30 379.08V397.52M327.10 379.08h2.4M327.10 397.52h2.4M332.40 375.79V394.41M331.20 375.79h2.4M331.20 394.41h2.4M334.00 377.81V395.59M332.80 377.81h2.4M332.80 395.59h2.4M339.70 381.77V393.23M338.50 381.77h2.4M338.50 393.23h2.4M345.30 378.71V397.89M344.10 378.71h2.4M344.10 397.89h2.4M323.40 384.29V398.91M322.20 384.29h2.4M322.20 398.91h2.4M329.10 385.03V396.57M327.90 385.03h2.4M327.90 396.57h2.4M341.30 383.79V397.81M340.10 383.79h2.4M340.10 397.81h2.4M311.60 385.09V398.71M310.40 385.09h2.4M310.40 398.71h2.4M321.80 389.07V398.93M320.60 389.07h2.4M320.60 398.93h2.4M324.20 387.19V402.41M323.00 387.19h2.4M323.00 402.41h2.4M334.00 389.12V402.08M332.80 389.12h2.4M332.80 402.08h2.4M322.60 389.67V404.93M321.40 389.67h2.4M321.40 404.93h2.4M314.50 388.78V408.02M313.30 388.78h2.4M313.30 408.02h2.4M325.90 390.85V406.95M324.70 390.85h2.4M324.70 406.95h2.4M328.30 392.97V406.43M327.10 392.97h2.4M327.10 406.43h2.4M331.50 390.45V408.95M330.30 390.45h2.4M330.30 408.95h2.4M334.00 390.03V409.97M332.80 390.03h2.4M332.80 409.97h2.4M338.80 391.20V405.60M337.60 391.20h2.4M337.60 405.60h2.4M344.00 386.80V406.20M342.80 386.80h2.4M342.80 406.20h2.4M317.70 396.70V405.90M316.50 396.70h2.4M316.50 405.90h2.4M320.20 397.73V408.27M319.00 397.73h2.4M319.00 408.27h2.4M311.60 397.85V408.75M310.40 397.85h2.4M310.40 408.75h2.4M325.00 394.94V414.26M323.80 394.94h2.4M323.80 414.26h2.4M327.50 396.30V412.90M326.30 396.30h2.4M326.30 412.90h2.4M329.10 398.55V415.45M327.90 398.55h2.4M327.90 415.45h2.4M318.60 400.92V413.08M317.40 400.92h2.4M317.40 413.08h2.4M309.60 404.68V419.12M308.40 404.68h2.4M308.40 419.12h2.4M316.10 402.52V421.28M314.90 402.52h2.4M314.90 421.28h2.4M318.10 408.45V418.55M316.90 408.45h2.4M316.90 418.55h2.4M328.30 406.76V417.04M327.10 406.76h2.4M327.10 417.04h2.4M315.30 412.84V422.36M314.10 412.84h2.4M314.10 422.36h2.4M318.60 411.32V425.48M317.40 411.32h2.4M317.40 425.48h2.4M321.00 408.48V426.72M319.80 408.48h2.4M319.80 426.72h2.4M309.60 412.45V427.55M308.40 412.45h2.4M308.40 427.55h2.4M317.70 421.00V431.00M316.50 421.00h2.4M316.50 431.00h2.4M340.10 408.60V422.60M338.90 408.60h2.4M338.90 422.60h2.4M372.80 330.89V344.31M371.60 330.89h2.4M371.60 344.31h2.4M379.70 333.24V347.76M378.50 333.24h2.4M378.50 347.76h2.4M379.70 342.31V353.29M378.50 342.31h2.4M378.50 353.29h2.4M381.30 336.49V355.91M380.10 336.49h2.4M380.10 355.91h2.4M386.10 340.55V353.45M384.90 340.55h2.4M384.90 353.45h2.4M367.20 346.01V357.59M366.00 346.01h2.4M366.00 357.59h2.4M368.80 348.89V361.31M367.60 348.89h2.4M367.60 361.31h2.4M371.50 345.26V363.34M370.30 345.26h2.4M370.30 363.34h2.4M369.10 351.25V363.75M367.90 351.25h2.4M367.90 363.75h2.4M382.10 344.82V363.78M380.90 344.82h2.4M380.90 363.78h2.4M352.10 348.75V361.45M350.90 348.75h2.4M350.90 361.45h2.4M356.90 346.57V360.43M355.70 346.57h2.4M355.70 360.43h2.4M360.20 354.19V364.01M359.00 354.19h2.4M359.00 364.01h2.4M373.20 350.51V369.49M372.00 350.51h2.4M372.00 369.49h2.4M376.40 350.22V367.98M375.20 350.22h2.4M375.20 367.98h2.4M379.70 352.39V366.61M378.50 352.39h2.4M378.50 366.61h2.4M386.10 353.17V363.43M384.90 353.17h2.4M384.90 363.43h2.4M350.90 353.59V368.01M349.70 353.59h2.4M349.70 368.01h2.4M351.60 357.43V370.57M350.40 357.43h2.4M350.40 370.57h2.4M357.70 354.88V373.12M356.50 354.88h2.4M356.50 373.12h2.4M362.60 352.80V372.00M361.40 352.80h2.4M361.40 372.00h2.4M365.00 355.42V372.58M363.80 355.42h2.4M363.80 372.58h2.4M367.50 358.72V370.88M366.30 358.72h2.4M366.30 370.88h2.4M369.90 358.77V368.23M368.70 358.77h2.4M368.70 368.23h2.4M363.40 357.08V375.92M362.20 357.08h2.4M362.20 375.92h2.4M371.50 357.61V376.99M370.30 357.61h2.4M370.30 376.99h2.4M377.20 361.43V372.17M376.00 361.43h2.4M376.00 372.17h2.4M355.30 361.65V376.15M354.10 361.65h2.4M354.10 376.15h2.4M359.40 360.95V375.25M358.20 360.95h2.4M358.20 375.25h2.4M361.00 360.63V380.37M359.80 360.63h2.4M359.80 380.37h2.4M365.00 367.36V376.84M363.80 367.36h2.4M363.80 376.84h2.4M367.50 366.46V376.14M366.30 366.46h2.4M366.30 376.14h2.4M372.40 362.46V380.74M371.20 362.46h2.4M371.20 380.74h2.4M380.50 361.27V376.53M379.30 361.27h2.4M379.30 376.53h2.4M386.10 360.26V374.34M384.90 360.26h2.4M384.90 374.34h2.4M352.90 363.82V381.38M351.70 363.82h2.4M351.70 381.38h2.4M357.70 365.24V380.76M356.50 365.24h2.4M356.50 380.76h2.4M362.60 366.29V382.91M361.40 366.29h2.4M361.40 382.91h2.4M354.50 369.19V381.01M353.30 369.19h2.4M353.30 381.01h2.4M377.20 370.43V380.37M376.00 370.43h2.4M376.00 380.37h2.4M379.70 371.35V380.45M378.50 371.35h2.4M378.50 380.45h2.4M381.30 371.47V384.13M380.10 371.47h2.4M380.10 384.13h2.4M350.40 370.53V386.67M349.20 370.53h2.4M349.20 386.67h2.4M362.60 374.51V387.69M361.40 374.51h2.4M361.40 387.69h2.4M365.00 375.49V388.31M363.80 375.49h2.4M363.80 388.31h2.4M349.60 376.40V392.20M348.40 376.40h2.4M348.40 392.20h2.4M352.10 376.72V393.48M350.90 376.72h2.4M350.90 393.48h2.4M348.80 381.43V396.97M347.60 381.43h2.4M347.60 396.97h2.4M349.60 384.89V397.31M348.40 384.89h2.4M348.40 397.31h2.4M361.80 381.48V399.52M360.60 381.48h2.4M360.60 399.52h2.4M358.60 385.20V403.00M357.40 385.20h2.4M357.40 403.00h2.4M348.80 387.09V405.91M347.60 387.09h2.4M347.60 405.91h2.4M412.10 318.50V332.50M410.90 318.50h2.4M410.90 332.50h2.4M419.70 331.30V349.30M418.50 331.30h2.4M418.50 349.30h2.4M406.40 329.50V341.50M405.20 329.50h2.4M405.20 341.50h2.4M405.80 337.70V347.70M404.60 337.70h2.4M404.60 347.70h2.4M392.30 337.10V351.10M391.10 337.10h2.4M391.10 351.10h2.4M402.10 353.00V361.00M400.90 353.00h2.4M400.90 361.00h2.4M390.60 352.00V368.00M389.40 352.00h2.4M389.40 368.00h2.4M388.90 350.59V369.41M387.70 350.59h2.4M387.70 369.41h2.4M346.00 376.42V385.58M344.80 376.42h2.4M344.80 385.58h2.4M349.00 375.82V392.18M347.80 375.82h2.4M347.80 392.18h2.4M347.00 381.09V393.91M345.80 381.09h2.4M345.80 393.91h2.4M358.00 361.36V374.64M356.80 361.36h2.4M356.80 374.64h2.4M361.00 358.65V373.35M359.80 358.65h2.4M359.80 373.35h2.4M356.00 366.71V377.29M354.80 366.71h2.4M354.80 377.29h2.4" stroke="#f3a588" stroke-width="0.9" fill="none"/>
<line x1="253.00" y1="471.70" x2="443.74" y2="287.90" stroke="#de7a5c" stroke-width="1.2" stroke-dasharray="4.2 1.7"/>
<g fill="#2270ec"><circle cx="279.40" cy="427.60" r="2.2"/><circle cx="280.70" cy="434.00" r="2.2"/><circle cx="284.70" cy="430.90" r="2.2"/><circle cx="287.20" cy="413.70" r="2.2"/><circle cx="288.00" cy="423.60" r="2.2"/><circle cx="295.00" cy="449.00" r="2.2"/><circle cx="296.10" cy="388.70" r="2.2"/><circle cx="301.80" cy="403.60" r="2.2"/><circle cx="302.90" cy="409.00" r="2.2"/><circle cx="303.70" cy="412.50" r="2.2"/><circle cx="300.10" cy="426.00" r="2.2"/><circle cx="306.50" cy="410.60" r="2.2"/><circle cx="306.50" cy="424.40" r="2.2"/><circle cx="335.90" cy="361.10" r="2.2"/><circle cx="338.00" cy="365.90" r="2.2"/><circle cx="331.20" cy="364.80" r="2.2"/><circle cx="345.00" cy="357.50" r="2.2"/><circle cx="345.70" cy="355.10" r="2.2"/><circle cx="344.50" cy="368.00" r="2.2"/><circle cx="341.30" cy="371.80" r="2.2"/><circle cx="345.30" cy="375.40" r="2.2"/><circle cx="329.40" cy="375.40" r="2.2"/><circle cx="332.40" cy="381.00" r="2.2"/><circle cx="338.00" cy="381.80" r="2.2"/><circle cx="342.10" cy="378.60" r="2.2"/><circle cx="345.30" cy="381.80" r="2.2"/><circle cx="325.00" cy="386.40" r="2.2"/><circle cx="328.30" cy="388.30" r="2.2"/><circle cx="332.40" cy="385.10" r="2.2"/><circle cx="334.00" cy="386.70" r="2.2"/><circle cx="339.70" cy="387.50" r="2.2"/><circle cx="345.30" cy="388.30" r="2.2"/><circle cx="323.40" cy="391.60" r="2.2"/><circle cx="329.10" cy="390.80" r="2.2"/><circle cx="341.30" cy="390.80" r="2.2"/><circle cx="311.60" cy="391.90" r="2.2"/><circle cx="321.80" cy="394.00" r="2.2"/><circle cx="324.20" cy="394.80" r="2.2"/><circle cx="334.00" cy="395.60" r="2.2"/><circle cx="322.60" cy="397.30" r="2.2"/><circle cx="314.50" cy="398.40" r="2.2"/><circle cx="325.90" cy="398.90" r="2.2"/><circle cx="328.30" cy="399.70" r="2.2"/><circle cx="331.50" cy="399.70" r="2.2"/><circle cx="334.00" cy="400.00" r="2.2"/><circle cx="338.80" cy="398.40" r="2.2"/><circle cx="344.00" cy="396.50" r="2.2"/><circle cx="317.70" cy="401.30" r="2.2"/><circle cx="320.20" cy="403.00" r="2.2"/><circle cx="311.60" cy="403.30" r="2.2"/><circle cx="325.00" cy="404.60" r="2.2"/><circle cx="327.50" cy="404.60" r="2.2"/><circle cx="329.10" cy="407.00" r="2.2"/><circle cx="318.60" cy="407.00" r="2.2"/><circle cx="309.60" cy="411.90" r="2.2"/><circle cx="316.10" cy="411.90" r="2.2"/><circle cx="318.10" cy="413.50" r="2.2"/><circle cx="328.30" cy="411.90" r="2.2"/><circle cx="315.30" cy="417.60" r="2.2"/><circle cx="318.60" cy="418.40" r="2.2"/><circle cx="321.00" cy="417.60" r="2.2"/><circle cx="309.60" cy="420.00" r="2.2"/><circle cx="317.70" cy="426.00" r="2.2"/><circle cx="340.10" cy="415.60" r="2.2"/><circle cx="372.80" cy="337.60" r="2.2"/><circle cx="379.70" cy="340.50" r="2.2"/><circle cx="379.70" cy="347.80" r="2.2"/><circle cx="381.30" cy="346.20" r="2.2"/><circle cx="386.10" cy="347.00" r="2.2"/><circle cx="367.20" cy="351.80" r="2.2"/><circle cx="368.80" cy="355.10" r="2.2"/><circle cx="371.50" cy="354.30" r="2.2"/><circle cx="369.10" cy="357.50" r="2.2"/><circle cx="382.10" cy="354.30" r="2.2"/><circle cx="352.10" cy="355.10" r="2.2"/><circle cx="356.90" cy="353.50" r="2.2"/><circle cx="360.20" cy="359.10" r="2.2"/><circle cx="373.20" cy="360.00" r="2.2"/><circle cx="376.40" cy="359.10" r="2.2"/><circle cx="379.70" cy="359.50" r="2.2"/><circle cx="386.10" cy="358.30" r="2.2"/><circle cx="350.90" cy="360.80" r="2.2"/><circle cx="351.60" cy="364.00" r="2.2"/><circle cx="357.70" cy="364.00" r="2.2"/><circle cx="362.60" cy="362.40" r="2.2"/><circle cx="365.00" cy="364.00" r="2.2"/><circle cx="367.50" cy="364.80" r="2.2"/><circle cx="369.90" cy="363.50" r="2.2"/><circle cx="363.40" cy="366.50" r="2.2"/><circle cx="371.50" cy="367.30" r="2.2"/><circle cx="377.20" cy="366.80" r="2.2"/><circle cx="355.30" cy="368.90" r="2.2"/><circle cx="359.40" cy="368.10" r="2.2"/><circle cx="361.00" cy="370.50" r="2.2"/><circle cx="365.00" cy="372.10" r="2.2"/><circle cx="367.50" cy="371.30" r="2.2"/><circle cx="372.40" cy="371.60" r="2.2"/><circle cx="380.50" cy="368.90" r="2.2"/><circle cx="386.10" cy="367.30" r="2.2"/><circle cx="352.90" cy="372.60" r="2.2"/><circle cx="357.70" cy="373.00" r="2.2"/><circle cx="362.60" cy="374.60" r="2.2"/><circle cx="354.50" cy="375.10" r="2.2"/><circle cx="377.20" cy="375.40" r="2.2"/><circle cx="379.70" cy="375.90" r="2.2"/><circle cx="381.30" cy="377.80" r="2.2"/><circle cx="350.40" cy="378.60" r="2.2"/><circle cx="362.60" cy="381.10" r="2.2"/><circle cx="365.00" cy="381.90" r="2.2"/><circle cx="349.60" cy="384.30" r="2.2"/><circle cx="352.10" cy="385.10" r="2.2"/><circle cx="348.80" cy="389.20" r="2.2"/><circle cx="349.60" cy="391.10" r="2.2"/><circle cx="361.80" cy="390.50" r="2.2"/><circle cx="358.60" cy="394.10" r="2.2"/><circle cx="348.80" cy="396.50" r="2.2"/><circle cx="412.10" cy="325.50" r="2.2"/><circle cx="419.70" cy="340.30" r="2.2"/><circle cx="406.40" cy="335.50" r="2.2"/><circle cx="405.80" cy="342.70" r="2.2"/><circle cx="392.30" cy="344.10" r="2.2"/><circle cx="402.10" cy="357.00" r="2.2"/><circle cx="390.60" cy="360.00" r="2.2"/><circle cx="388.90" cy="360.00" r="2.2"/><circle cx="346.00" cy="381.00" r="2.2"/><circle cx="349.00" cy="384.00" r="2.2"/><circle cx="347.00" cy="387.50" r="2.2"/><circle cx="358.00" cy="368.00" r="2.2"/><circle cx="361.00" cy="366.00" r="2.2"/><circle cx="356.00" cy="372.00" r="2.2"/></g>
<path d="M253.00 280.90V471.70" stroke="#8e8e8e" stroke-width="1.2" fill="none"/>
<path d="M252.40 471.70H451.00" stroke="#7a7a7a" stroke-width="1.2" fill="none"/>
<path d="M253.00 471.70v2.6M253.00 471.70h-2.8M286.00 471.70v2.6M253.00 439.90h-2.8M319.00 471.70v2.6M253.00 408.10h-2.8M352.00 471.70v2.6M253.00 376.30h-2.8M385.00 471.70v2.6M253.00 344.50h-2.8M418.00 471.70v2.6M253.00 312.70h-2.8M451.00 471.70v2.6M253.00 280.90h-2.8" stroke="#7a7a7a" stroke-width="1.0" fill="none"/>
<g font-family="Liberation Sans, sans-serif" font-size="8.3" fill="#262626" stroke="#262626" stroke-width="0.08"><text x="253.00" y="481.80" text-anchor="middle" textLength="4.39" lengthAdjust="spacingAndGlyphs">0</text><text x="248.90" y="474.60" text-anchor="end" textLength="4.39" lengthAdjust="spacingAndGlyphs">0</text><text x="286.00" y="481.80" text-anchor="middle" textLength="4.39" lengthAdjust="spacingAndGlyphs">5</text><text x="248.90" y="442.80" text-anchor="end" textLength="4.39" lengthAdjust="spacingAndGlyphs">5</text><text x="319.00" y="481.80" text-anchor="middle" textLength="8.79" lengthAdjust="spacingAndGlyphs">10</text><text x="248.90" y="411.00" text-anchor="end" textLength="8.79" lengthAdjust="spacingAndGlyphs">10</text><text x="352.00" y="481.80" text-anchor="middle" textLength="8.79" lengthAdjust="spacingAndGlyphs">15</text><text x="248.90" y="379.20" text-anchor="end" textLength="8.79" lengthAdjust="spacingAndGlyphs">15</text><text x="385.00" y="481.80" text-anchor="middle" textLength="8.79" lengthAdjust="spacingAndGlyphs">20</text><text x="248.90" y="347.40" text-anchor="end" textLength="8.79" lengthAdjust="spacingAndGlyphs">20</text><text x="418.00" y="481.80" text-anchor="middle" textLength="8.79" lengthAdjust="spacingAndGlyphs">25</text><text x="248.90" y="315.60" text-anchor="end" textLength="8.79" lengthAdjust="spacingAndGlyphs">25</text><text x="451.00" y="481.80" text-anchor="middle" textLength="8.79" lengthAdjust="spacingAndGlyphs">30</text><text x="248.90" y="283.80" text-anchor="end" textLength="8.79" lengthAdjust="spacingAndGlyphs">30</text></g>
<text x="352.00" y="490.40" text-anchor="middle" font-family="Liberation Sans, sans-serif" font-size="8.2" fill="#111" stroke="#111" stroke-width="0.1" textLength="83.21" lengthAdjust="spacingAndGlyphs">Observed SOC (g/kg)</text>
<text transform="translate(235.60,376.70) rotate(-90)" x="0" y="0" text-anchor="middle" font-family="Liberation Sans, sans-serif" font-size="8.2" fill="#111" stroke="#111" stroke-width="0.1" textLength="81.29" lengthAdjust="spacingAndGlyphs">Predicted SOC (g/kg)</text>
<g font-family="Liberation Sans, sans-serif" font-size="9.0" fill="#111" stroke="#111" stroke-width="0.12" text-anchor="middle">
<text x="352.00" y="256.20" textLength="45.13" lengthAdjust="spacingAndGlyphs">CNN - R90</text>
<text x="352.00" y="266.50" textLength="85.86" lengthAdjust="spacingAndGlyphs"><tspan font-style="italic" font-size="9.4">R</tspan><tspan font-size="6.30" dx="0.5" dy="-3.4">2</tspan><tspan dy="3.4"> = 0.701 ± 0.053</tspan></text>
<text x="352.00" y="276.40" textLength="100.60" lengthAdjust="spacingAndGlyphs">RMSE = 2.226 ± 0.180</text>
</g>
<rect x="257.20" y="286.10" width="94.4" height="26.8" fill="#fff" fill-opacity="0.8" stroke="#bdbdbd" stroke-width="0.8"/>
<line x1="260.60" y1="292.30" x2="277.40" y2="292.30" stroke="#de7a5c" stroke-width="1.3" stroke-dasharray="4.2 1.7"/>
<path d="M269.50 300.20V308.80M268.30 300.20h2.4M268.30 308.80h2.4" stroke="#f3a588" stroke-width="0.9"/>
<circle cx="269.50" cy="304.50" r="2.2" fill="#2270ec"/>
<g font-family="Liberation Serif, serif" font-size="8.75" fill="#111">
<text x="285.80" y="295.20">Perfect prediction</text>
<text x="285.80" y="307.40">Predictions</text>
</g>
<g stroke="#f7f7f7" stroke-width="1"><line x1="482.60" y1="471.70" x2="482.60" y2="280.90"/><line x1="482.60" y1="471.70" x2="680.60" y2="471.70"/><line x1="515.60" y1="471.70" x2="515.60" y2="280.90"/><line x1="482.60" y1="439.90" x2="680.60" y2="439.90"/><line x1="548.60" y1="471.70" x2="548.60" y2="280.90"/><line x1="482.60" y1="408.10" x2="680.60" y2="408.10"/><line x1="581.60" y1="471.70" x2="581.60" y2="280.90"/><line x1="482.60" y1="376.30" x2="680.60" y2="376.30"/><line x1="614.60" y1="471.70" x2="614.60" y2="280.90"/><line x1="482.60" y1="344.50" x2="680.60" y2="344.50"/><line x1="647.60" y1="471.70" x2="647.60" y2="280.90"/><line x1="482.60" y1="312.70" x2="680.60" y2="312.70"/><line x1="680.60" y1="471.70" x2="680.60" y2="280.90"/><line x1="482.60" y1="280.90" x2="680.60" y2="280.90"/></g>
<path d="M509.20 424.60V434.60M508.00 424.60h2.4M508.00 434.60h2.4M510.50 414.10V428.10M509.30 414.10h2.4M509.30 428.10h2.4M514.50 413.60V431.60M513.30 413.60h2.4M513.30 431.60h2.4M517.60 415.20V425.20M516.40 415.20h2.4M516.40 425.20h2.4M516.80 395.10V403.10M515.60 395.10h2.4M515.60 403.10h2.4M525.60 396.80V404.80M524.40 396.80h2.4M524.40 404.80h2.4M524.60 423.60V431.60M523.40 423.60h2.4M523.40 431.60h2.4M530.00 424.10V434.10M528.80 424.10h2.4M528.80 434.10h2.4M531.40 399.07V408.73M530.20 399.07h2.4M530.20 408.73h2.4M532.70 406.17V416.63M531.50 406.17h2.4M531.50 416.63h2.4M533.00 408.68V418.72M531.80 408.68h2.4M531.80 418.72h2.4M534.00 417.68V427.92M532.80 417.68h2.4M532.80 427.92h2.4M536.00 387.61V397.59M534.80 387.61h2.4M534.80 397.59h2.4M536.00 407.46V419.14M534.80 407.46h2.4M534.80 419.14h2.4M575.50 350.62V359.58M574.30 350.62h2.4M574.30 359.58h2.4M571.40 361.44V372.96M570.20 361.44h2.4M570.20 372.96h2.4M561.00 364.37V371.63M559.80 364.37h2.4M559.80 371.63h2.4M574.00 365.87V375.13M572.80 365.87h2.4M572.80 375.13h2.4M555.20 370.66V380.14M554.00 370.66h2.4M554.00 380.14h2.4M561.40 370.42V378.58M560.20 370.42h2.4M560.20 378.58h2.4M563.80 369.27V381.53M562.60 369.27h2.4M562.60 381.53h2.4M569.50 372.35V381.65M568.30 372.35h2.4M568.30 381.65h2.4M575.10 369.12V381.68M573.90 369.12h2.4M573.90 381.68h2.4M558.90 373.35V387.05M557.70 373.35h2.4M557.70 387.05h2.4M562.20 375.44V384.36M561.00 375.44h2.4M561.00 384.36h2.4M564.60 372.76V386.04M563.40 372.76h2.4M563.40 386.04h2.4M567.00 375.45V388.15M565.80 375.45h2.4M565.80 388.15h2.4M560.50 377.63V389.37M559.30 377.63h2.4M559.30 389.37h2.4M563.80 380.61V387.99M562.60 380.61h2.4M562.60 387.99h2.4M558.90 379.95V390.25M557.70 379.95h2.4M557.70 390.25h2.4M566.20 379.37V390.83M565.00 379.37h2.4M565.00 390.83h2.4M573.50 378.09V387.31M572.30 378.09h2.4M572.30 387.31h2.4M576.00 381.54V390.26M574.80 381.54h2.4M574.80 390.26h2.4M551.60 382.05V391.35M550.40 382.05h2.4M550.40 391.35h2.4M554.90 383.82V392.78M553.70 383.82h2.4M553.70 392.78h2.4M563.00 381.72V394.28M561.80 381.72h2.4M561.80 394.28h2.4M571.10 383.92V393.48M569.90 383.92h2.4M569.90 393.48h2.4M549.20 384.56V394.64M548.00 384.56h2.4M548.00 394.64h2.4M553.20 385.01V396.59M552.00 385.01h2.4M552.00 396.59h2.4M556.50 383.98V397.62M555.30 383.98h2.4M555.30 397.62h2.4M563.00 386.20V395.40M561.80 386.20h2.4M561.80 395.40h2.4M575.10 387.85V395.35M573.90 387.85h2.4M573.90 395.35h2.4M559.70 387.09V400.91M558.50 387.09h2.4M558.50 400.91h2.4M567.80 388.37V401.23M566.60 388.37h2.4M566.60 401.23h2.4M574.30 391.51V404.09M573.10 391.51h2.4M573.10 404.09h2.4M563.00 392.72V403.48M561.80 392.72h2.4M561.80 403.48h2.4M552.40 396.10V404.90M551.20 396.10h2.4M551.20 404.90h2.4M541.90 397.97V406.23M540.70 397.97h2.4M540.70 406.23h2.4M545.10 396.67V405.93M543.90 396.67h2.4M543.90 405.93h2.4M547.60 396.93V407.27M546.40 396.93h2.4M546.40 407.27h2.4M554.90 398.28V405.92M553.70 398.28h2.4M553.70 405.92h2.4M557.30 394.52V406.48M556.10 394.52h2.4M556.10 406.48h2.4M569.50 396.53V408.67M568.30 396.53h2.4M568.30 408.67h2.4M539.40 403.36V410.64M538.20 403.36h2.4M538.20 410.64h2.4M546.70 399.74V412.66M545.50 399.74h2.4M545.50 412.66h2.4M551.60 399.33V409.87M550.40 399.33h2.4M550.40 409.87h2.4M555.70 399.48V412.92M554.50 399.48h2.4M554.50 412.92h2.4M559.70 400.98V411.42M558.50 400.98h2.4M558.50 411.42h2.4M545.90 404.39V417.01M544.70 404.39h2.4M544.70 417.01h2.4M548.40 405.96V416.24M547.20 405.96h2.4M547.20 416.24h2.4M550.00 404.62V415.98M548.80 404.62h2.4M548.80 415.98h2.4M558.90 406.60V417.20M557.70 406.60h2.4M557.70 417.20h2.4M558.10 410.62V417.98M556.90 410.62h2.4M556.90 417.98h2.4M547.60 411.01V419.19M546.40 411.01h2.4M546.40 419.19h2.4M547.60 413.51V422.29M546.40 413.51h2.4M546.40 422.29h2.4M545.10 419.42V429.38M543.90 419.42h2.4M543.90 429.38h2.4M537.50 387.54V397.26M536.30 387.54h2.4M536.30 397.26h2.4M602.60 338.67V349.53M601.40 338.67h2.4M601.40 349.53h2.4M609.50 337.86V349.54M608.30 337.86h2.4M608.30 349.54h2.4M610.30 341.24V351.16M609.10 341.24h2.4M609.10 351.16h2.4M608.70 343.11V352.49M607.50 343.11h2.4M607.50 352.49h2.4M596.50 341.66V352.34M595.30 341.66h2.4M595.30 352.34h2.4M599.70 346.66V360.34M598.50 346.66h2.4M598.50 360.34h2.4M605.90 349.34V361.86M604.70 349.34h2.4M604.70 361.86h2.4M611.10 351.67V363.33M609.90 351.67h2.4M609.90 363.33h2.4M615.10 347.92V360.68M613.90 347.92h2.4M613.90 360.68h2.4M581.90 350.73V359.47M580.70 350.73h2.4M580.70 359.47h2.4M586.40 352.46V360.34M585.20 352.46h2.4M585.20 360.34h2.4M591.60 354.08V361.92M590.40 354.08h2.4M590.40 361.92h2.4M596.50 352.69V360.71M595.30 352.69h2.4M595.30 360.71h2.4M598.10 356.37V363.63M596.90 356.37h2.4M596.90 363.63h2.4M616.00 353.37V364.83M614.80 353.37h2.4M614.80 364.83h2.4M581.10 353.28V366.72M579.90 353.28h2.4M579.90 366.72h2.4M584.30 358.41V366.39M583.10 358.41h2.4M583.10 366.39h2.4M587.60 357.56V369.44M586.40 357.56h2.4M586.40 369.44h2.4M594.00 356.40V370.00M592.80 356.40h2.4M592.80 370.00h2.4M601.40 356.20V368.60M600.20 356.20h2.4M600.20 368.60h2.4M580.20 359.88V368.12M579.00 359.88h2.4M579.00 368.12h2.4M582.70 359.03V370.57M581.50 359.03h2.4M581.50 370.57h2.4M593.20 361.13V370.07M592.00 361.13h2.4M592.00 370.07h2.4M595.70 360.59V369.01M594.50 360.59h2.4M594.50 369.01h2.4M598.10 362.86V370.14M596.90 362.86h2.4M596.90 370.14h2.4M608.70 357.51V368.29M607.50 357.51h2.4M607.50 368.29h2.4M609.50 358.88V372.32M608.30 358.88h2.4M608.30 372.32h2.4M581.90 364.95V372.85M580.70 364.95h2.4M580.70 372.85h2.4M592.40 364.00V372.20M591.20 364.00h2.4M591.20 372.20h2.4M594.90 363.98V373.82M593.70 363.98h2.4M593.70 373.82h2.4M600.50 365.17V372.63M599.30 365.17h2.4M599.30 372.63h2.4M603.00 362.92V373.28M601.80 362.92h2.4M601.80 373.28h2.4M589.20 364.92V377.08M588.00 364.92h2.4M588.00 377.08h2.4M586.70 369.43V379.77M585.50 369.43h2.4M585.50 379.77h2.4M591.60 368.37V375.83M590.40 368.37h2.4M590.40 375.83h2.4M606.20 367.90V375.30M605.00 367.90h2.4M605.00 375.30h2.4M609.50 366.23V374.77M608.30 366.23h2.4M608.30 374.77h2.4M615.10 366.73V378.47M613.90 366.73h2.4M613.90 378.47h2.4M577.80 366.26V379.74M576.60 366.26h2.4M576.60 379.74h2.4M579.40 370.89V381.51M578.20 370.89h2.4M578.20 381.51h2.4M590.80 373.05V380.95M589.60 373.05h2.4M589.60 380.95h2.4M601.70 372.67V381.33M600.50 372.67h2.4M600.50 381.33h2.4M611.10 373.09V383.11M609.90 373.09h2.4M609.90 383.11h2.4M593.20 375.13V383.07M592.00 375.13h2.4M592.00 383.07h2.4M590.00 376.71V384.69M588.80 376.71h2.4M588.80 384.69h2.4M580.20 376.82V386.98M579.00 376.82h2.4M579.00 386.98h2.4M581.90 376.54V389.46M580.70 376.54h2.4M580.70 389.46h2.4M587.60 378.29V387.11M586.40 378.29h2.4M586.40 387.11h2.4M588.40 379.70V392.90M587.20 379.70h2.4M587.20 392.90h2.4M607.00 385.50V395.50M605.80 385.50h2.4M605.80 395.50h2.4M578.60 385.82V398.98M577.40 385.82h2.4M577.40 398.98h2.4M577.80 390.63V400.77M576.60 390.63h2.4M576.60 400.77h2.4M636.00 327.00V345.00M634.80 327.00h2.4M634.80 345.00h2.4M642.00 328.30V344.30M640.80 328.30h2.4M640.80 344.30h2.4M649.40 334.50V348.50M648.20 334.50h2.4M648.20 348.50h2.4M635.30 344.80V352.80M634.10 344.80h2.4M634.10 352.80h2.4M631.70 355.40V361.40M630.50 355.40h2.4M630.50 361.40h2.4M622.20 349.40V359.40M621.00 349.40h2.4M621.00 359.40h2.4M620.10 355.00V365.00M618.90 355.00h2.4M618.90 365.00h2.4M617.90 355.64V364.36M616.70 355.64h2.4M616.70 364.36h2.4M617.00 350.57V359.03M615.80 350.57h2.4M615.80 359.03h2.4M575.50 367.13V378.87M574.30 367.13h2.4M574.30 378.87h2.4M578.00 370.59V383.41M576.80 370.59h2.4M576.80 383.41h2.4M574.00 373.97V387.03M572.80 373.97h2.4M572.80 387.03h2.4M579.50 377.19V385.81M578.30 377.19h2.4M578.30 385.81h2.4M577.00 365.45V375.55M575.80 365.45h2.4M575.80 375.55h2.4" stroke="#f3a588" stroke-width="0.9" fill="none"/>
<line x1="482.60" y1="471.70" x2="673.34" y2="287.90" stroke="#de7a5c" stroke-width="1.2" stroke-dasharray="4.2 1.7"/>
<g fill="#2270ec"><circle cx="509.20" cy="429.60" r="2.2"/><circle cx="510.50" cy="421.10" r="2.2"/><circle cx="514.50" cy="422.60" r="2.2"/><circle cx="517.60" cy="420.20" r="2.2"/><circle cx="516.80" cy="399.10" r="2.2"/><circle cx="525.60" cy="400.80" r="2.2"/><circle cx="524.60" cy="427.60" r="2.2"/><circle cx="530.00" cy="429.10" r="2.2"/><circle cx="531.40" cy="403.90" r="2.2"/><circle cx="532.70" cy="411.40" r="2.2"/><circle cx="533.00" cy="413.70" r="2.2"/><circle cx="534.00" cy="422.80" r="2.2"/><circle cx="536.00" cy="392.60" r="2.2"/><circle cx="536.00" cy="413.30" r="2.2"/><circle cx="575.50" cy="355.10" r="2.2"/><circle cx="571.40" cy="367.20" r="2.2"/><circle cx="561.00" cy="368.00" r="2.2"/><circle cx="574.00" cy="370.50" r="2.2"/><circle cx="555.20" cy="375.40" r="2.2"/><circle cx="561.40" cy="374.50" r="2.2"/><circle cx="563.80" cy="375.40" r="2.2"/><circle cx="569.50" cy="377.00" r="2.2"/><circle cx="575.10" cy="375.40" r="2.2"/><circle cx="558.90" cy="380.20" r="2.2"/><circle cx="562.20" cy="379.90" r="2.2"/><circle cx="564.60" cy="379.40" r="2.2"/><circle cx="567.00" cy="381.80" r="2.2"/><circle cx="560.50" cy="383.50" r="2.2"/><circle cx="563.80" cy="384.30" r="2.2"/><circle cx="558.90" cy="385.10" r="2.2"/><circle cx="566.20" cy="385.10" r="2.2"/><circle cx="573.50" cy="382.70" r="2.2"/><circle cx="576.00" cy="385.90" r="2.2"/><circle cx="551.60" cy="386.70" r="2.2"/><circle cx="554.90" cy="388.30" r="2.2"/><circle cx="563.00" cy="388.00" r="2.2"/><circle cx="571.10" cy="388.70" r="2.2"/><circle cx="549.20" cy="389.60" r="2.2"/><circle cx="553.20" cy="390.80" r="2.2"/><circle cx="556.50" cy="390.80" r="2.2"/><circle cx="563.00" cy="390.80" r="2.2"/><circle cx="575.10" cy="391.60" r="2.2"/><circle cx="559.70" cy="394.00" r="2.2"/><circle cx="567.80" cy="394.80" r="2.2"/><circle cx="574.30" cy="397.80" r="2.2"/><circle cx="563.00" cy="398.10" r="2.2"/><circle cx="552.40" cy="400.50" r="2.2"/><circle cx="541.90" cy="402.10" r="2.2"/><circle cx="545.10" cy="401.30" r="2.2"/><circle cx="547.60" cy="402.10" r="2.2"/><circle cx="554.90" cy="402.10" r="2.2"/><circle cx="557.30" cy="400.50" r="2.2"/><circle cx="569.50" cy="402.60" r="2.2"/><circle cx="539.40" cy="407.00" r="2.2"/><circle cx="546.70" cy="406.20" r="2.2"/><circle cx="551.60" cy="404.60" r="2.2"/><circle cx="555.70" cy="406.20" r="2.2"/><circle cx="559.70" cy="406.20" r="2.2"/><circle cx="545.90" cy="410.70" r="2.2"/><circle cx="548.40" cy="411.10" r="2.2"/><circle cx="550.00" cy="410.30" r="2.2"/><circle cx="558.90" cy="411.90" r="2.2"/><circle cx="558.10" cy="414.30" r="2.2"/><circle cx="547.60" cy="415.10" r="2.2"/><circle cx="547.60" cy="417.90" r="2.2"/><circle cx="545.10" cy="424.40" r="2.2"/><circle cx="537.50" cy="392.40" r="2.2"/><circle cx="602.60" cy="344.10" r="2.2"/><circle cx="609.50" cy="343.70" r="2.2"/><circle cx="610.30" cy="346.20" r="2.2"/><circle cx="608.70" cy="347.80" r="2.2"/><circle cx="596.50" cy="347.00" r="2.2"/><circle cx="599.70" cy="353.50" r="2.2"/><circle cx="605.90" cy="355.60" r="2.2"/><circle cx="611.10" cy="357.50" r="2.2"/><circle cx="615.10" cy="354.30" r="2.2"/><circle cx="581.90" cy="355.10" r="2.2"/><circle cx="586.40" cy="356.40" r="2.2"/><circle cx="591.60" cy="358.00" r="2.2"/><circle cx="596.50" cy="356.70" r="2.2"/><circle cx="598.10" cy="360.00" r="2.2"/><circle cx="616.00" cy="359.10" r="2.2"/><circle cx="581.10" cy="360.00" r="2.2"/><circle cx="584.30" cy="362.40" r="2.2"/><circle cx="587.60" cy="363.50" r="2.2"/><circle cx="594.00" cy="363.20" r="2.2"/><circle cx="601.40" cy="362.40" r="2.2"/><circle cx="580.20" cy="364.00" r="2.2"/><circle cx="582.70" cy="364.80" r="2.2"/><circle cx="593.20" cy="365.60" r="2.2"/><circle cx="595.70" cy="364.80" r="2.2"/><circle cx="598.10" cy="366.50" r="2.2"/><circle cx="608.70" cy="362.90" r="2.2"/><circle cx="609.50" cy="365.60" r="2.2"/><circle cx="581.90" cy="368.90" r="2.2"/><circle cx="592.40" cy="368.10" r="2.2"/><circle cx="594.90" cy="368.90" r="2.2"/><circle cx="600.50" cy="368.90" r="2.2"/><circle cx="603.00" cy="368.10" r="2.2"/><circle cx="589.20" cy="371.00" r="2.2"/><circle cx="586.70" cy="374.60" r="2.2"/><circle cx="591.60" cy="372.10" r="2.2"/><circle cx="606.20" cy="371.60" r="2.2"/><circle cx="609.50" cy="370.50" r="2.2"/><circle cx="615.10" cy="372.60" r="2.2"/><circle cx="577.80" cy="373.00" r="2.2"/><circle cx="579.40" cy="376.20" r="2.2"/><circle cx="590.80" cy="377.00" r="2.2"/><circle cx="601.70" cy="377.00" r="2.2"/><circle cx="611.10" cy="378.10" r="2.2"/><circle cx="593.20" cy="379.10" r="2.2"/><circle cx="590.00" cy="380.70" r="2.2"/><circle cx="580.20" cy="381.90" r="2.2"/><circle cx="581.90" cy="383.00" r="2.2"/><circle cx="587.60" cy="382.70" r="2.2"/><circle cx="588.40" cy="386.30" r="2.2"/><circle cx="607.00" cy="390.50" r="2.2"/><circle cx="578.60" cy="392.40" r="2.2"/><circle cx="577.80" cy="395.70" r="2.2"/><circle cx="636.00" cy="336.00" r="2.2"/><circle cx="642.00" cy="336.30" r="2.2"/><circle cx="649.40" cy="341.50" r="2.2"/><circle cx="635.30" cy="348.80" r="2.2"/><circle cx="631.70" cy="358.40" r="2.2"/><circle cx="622.20" cy="354.40" r="2.2"/><circle cx="620.10" cy="360.00" r="2.2"/><circle cx="617.90" cy="360.00" r="2.2"/><circle cx="617.00" cy="354.80" r="2.2"/><circle cx="575.50" cy="373.00" r="2.2"/><circle cx="578.00" cy="377.00" r="2.2"/><circle cx="574.00" cy="380.50" r="2.2"/><circle cx="579.50" cy="381.50" r="2.2"/><circle cx="577.00" cy="370.50" r="2.2"/></g>
<path d="M482.60 280.90V471.70" stroke="#8e8e8e" stroke-width="1.2" fill="none"/>
<path d="M482.00 471.70H680.60" stroke="#7a7a7a" stroke-width="1.2" fill="none"/>
<path d="M482.60 471.70v2.6M482.60 471.70h-2.8M515.60 471.70v2.6M482.60 439.90h-2.8M548.60 471.70v2.6M482.60 408.10h-2.8M581.60 471.70v2.6M482.60 376.30h-2.8M614.60 471.70v2.6M482.60 344.50h-2.8M647.60 471.70v2.6M482.60 312.70h-2.8M680.60 471.70v2.6M482.60 280.90h-2.8" stroke="#7a7a7a" stroke-width="1.0" fill="none"/>
<g font-family="Liberation Sans, sans-serif" font-size="8.3" fill="#262626" stroke="#262626" stroke-width="0.08"><text x="482.60" y="481.80" text-anchor="middle" textLength="4.39" lengthAdjust="spacingAndGlyphs">0</text><text x="478.50" y="474.60" text-anchor="end" textLength="4.39" lengthAdjust="spacingAndGlyphs">0</text><text x="515.60" y="481.80" text-anchor="middle" textLength="4.39" lengthAdjust="spacingAndGlyphs">5</text><text x="478.50" y="442.80" text-anchor="end" textLength="4.39" lengthAdjust="spacingAndGlyphs">5</text><text x="548.60" y="481.80" text-anchor="middle" textLength="8.79" lengthAdjust="spacingAndGlyphs">10</text><text x="478.50" y="411.00" text-anchor="end" textLength="8.79" lengthAdjust="spacingAndGlyphs">10</text><text x="581.60" y="481.80" text-anchor="middle" textLength="8.79" lengthAdjust="spacingAndGlyphs">15</text><text x="478.50" y="379.20" text-anchor="end" textLength="8.79" lengthAdjust="spacingAndGlyphs">15</text><text x="614.60" y="481.80" text-anchor="middle" textLength="8.79" lengthAdjust="spacingAndGlyphs">20</text><text x="478.50" y="347.40" text-anchor="end" textLength="8.79" lengthAdjust="spacingAndGlyphs">20</text><text x="647.60" y="481.80" text-anchor="middle" textLength="8.79" lengthAdjust="spacingAndGlyphs">25</text><text x="478.50" y="315.60" text-anchor="end" textLength="8.79" lengthAdjust="spacingAndGlyphs">25</text><text x="680.60" y="481.80" text-anchor="middle" textLength="8.79" lengthAdjust="spacingAndGlyphs">30</text><text x="478.50" y="283.80" text-anchor="end" textLength="8.79" lengthAdjust="spacingAndGlyphs">30</text></g>
<text x="581.60" y="490.40" text-anchor="middle" font-family="Liberation Sans, sans-serif" font-size="8.2" fill="#111" stroke="#111" stroke-width="0.1" textLength="83.21" lengthAdjust="spacingAndGlyphs">Observed SOC (g/kg)</text>
<text transform="translate(465.20,376.70) rotate(-90)" x="0" y="0" text-anchor="middle" font-family="Liberation Sans, sans-serif" font-size="8.2" fill="#111" stroke="#111" stroke-width="0.1" textLength="81.29" lengthAdjust="spacingAndGlyphs">Predicted SOC (g/kg)</text>
<g font-family="Liberation Sans, sans-serif" font-size="9.0" fill="#111" stroke="#111" stroke-width="0.12" text-anchor="middle">
<text x="581.60" y="256.20" textLength="44.71" lengthAdjust="spacingAndGlyphs">XGB - R90</text>
<text x="581.60" y="266.50" textLength="85.86" lengthAdjust="spacingAndGlyphs"><tspan font-style="italic" font-size="9.4">R</tspan><tspan font-size="6.30" dx="0.5" dy="-3.4">2</tspan><tspan dy="3.4"> = 0.700 ± 0.047</tspan></text>
<text x="581.60" y="276.40" textLength="100.60" lengthAdjust="spacingAndGlyphs">RMSE = 2.232 ± 0.165</text>
</g>
<rect x="486.80" y="286.10" width="94.4" height="26.8" fill="#fff" fill-opacity="0.8" stroke="#bdbdbd" stroke-width="0.8"/>
<line x1="490.20" y1="292.30" x2="507.00" y2="292.30" stroke="#de7a5c" stroke-width="1.3" stroke-dasharray="4.2 1.7"/>
<path d="M499.10 300.20V308.80M497.90 300.20h2.4M497.90 308.80h2.4" stroke="#f3a588" stroke-width="0.9"/>
<circle cx="499.10" cy="304.50" r="2.2" fill="#2270ec"/>
<g font-family="Liberation Serif, serif" font-size="8.75" fill="#111">
<text x="515.40" y="295.20">Perfect prediction</text>
<text x="515.40" y="307.40">Predictions</text>
</g>
</svg></body></html>
